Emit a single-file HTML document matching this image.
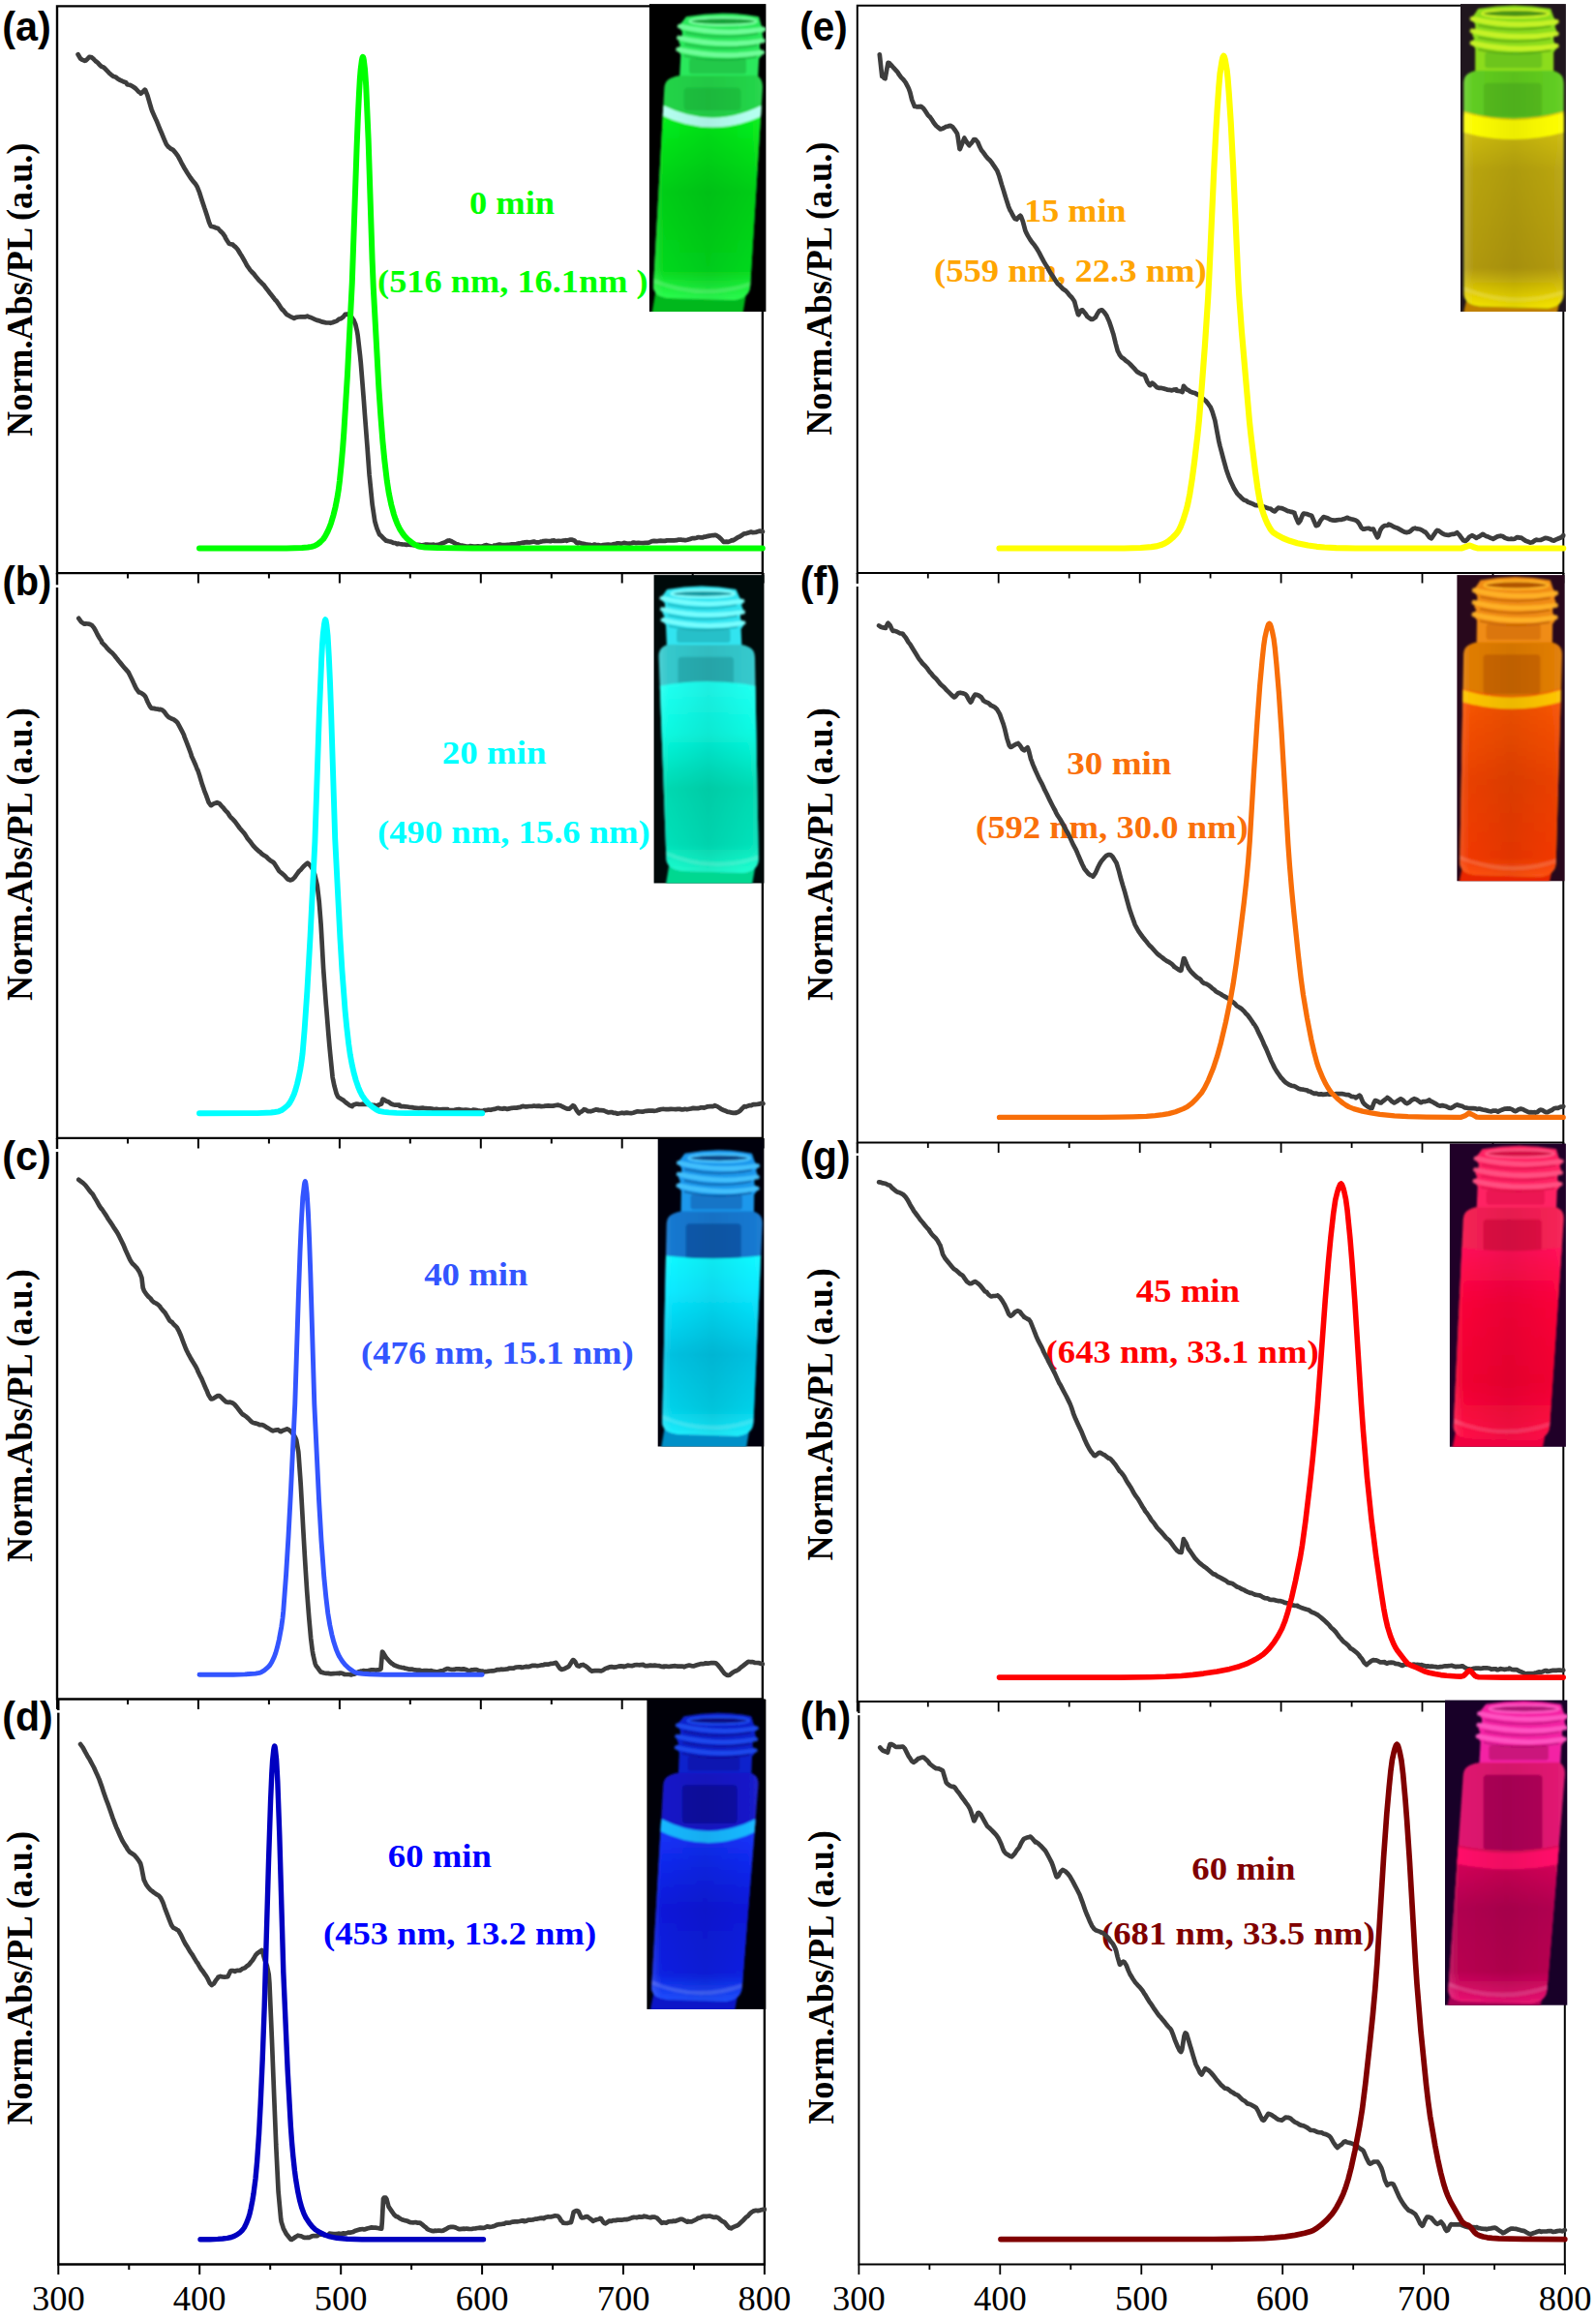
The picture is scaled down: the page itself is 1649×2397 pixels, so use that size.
<!DOCTYPE html>
<html lang="en"><head><meta charset="utf-8"><title>Norm. Abs/PL spectra</title>
<style>html,body{margin:0;padding:0;background:#fff}svg{display:block}.pl{font-family:"Liberation Serif", "Times New Roman", serif;font-weight:bold;font-size:34px}.yl{font-family:"Liberation Serif", "Times New Roman", serif;font-weight:bold;font-size:38px;fill:#000}.tk{font-family:"Liberation Serif", "Times New Roman", serif;font-size:36.5px;fill:#000;text-anchor:middle}.lb{font-family:"Liberation Sans", Arial, sans-serif;font-weight:bold;font-size:42px;fill:#000}</style></head><body>
<svg width="1649" height="2397" viewBox="0 0 1649 2397">
<defs><filter id="vb" x="-5%" y="-5%" width="110%" height="110%"><feGaussianBlur stdDeviation="1.3"/></filter></defs>
<rect width="1649" height="2397" fill="#fff"/>
<g id="panel-a">
<path d="M59,5.2 V593.3 M787.9,5.2 V593.3 M57.8,592.1 H789.1 M57.8,6.4 H789.1" stroke="#000" stroke-width="2.4" fill="none"/>
<path d="M59,592.1 v10.5 M132,592.1 v5.5 M204.9,592.1 v10.5 M277.9,592.1 v5.5 M350.9,592.1 v10.5 M423.8,592.1 v5.5 M496.8,592.1 v10.5 M569.8,592.1 v5.5 M642.7,592.1 v10.5 M715.7,592.1 v5.5 M788.6,592.1 v10.5" stroke="#000" stroke-width="2.0" fill="none"/>
<text class="yl" transform="translate(32.5,450.9) rotate(-90)" textLength="303.3" lengthAdjust="spacingAndGlyphs">Norm.Abs/PL (a.u.)</text>
<text class="lb" x="2.3" y="42.3" textLength="50.6" lengthAdjust="spacingAndGlyphs">(a)</text>
<text class="pl" fill="#00ff00" x="484.9" y="221.1" textLength="88.2" lengthAdjust="spacingAndGlyphs">0 min</text>
<text class="pl" fill="#00ff00" x="390.1" y="302.3" textLength="279.6" lengthAdjust="spacingAndGlyphs">(516 nm, 16.1nm )</text>
<polyline points="80.6,56.3 83.1,60.5 85.3,61.9 87.6,62.8 88.8,62.5 90.4,60.8 92.1,59 92.4,58.8 94.9,59.4 96.8,61.1 98.6,63 100.8,64.6 103.3,67.4 105.1,68.9 106,69 108,70.3 110.2,72.7 112.8,75.4 114.7,77.1 117.4,79.1 119.3,79.6 120.2,80.1 121.4,81.2 123.8,82.6 126,83.7 127.9,84.5 130.2,85.3 131.4,87.2 132.2,87.5 134,87.8 136,88.6 138.5,90.3 140.2,91.5 141.1,92.5 143.4,95 145.2,95.9 145.5,96.6 147.6,94.9 149.7,92.7 150.2,93.2 152.4,98.6 154.7,106.7 156.5,112.7 157.2,114.8 160,121.1 162.3,126.1 164,130.3 164.7,132.2 166.9,137.3 169.5,143.6 171.9,149.1 174,151.8 174.5,152 176.4,153.6 178.8,154.9 180.3,156.6 181.2,157.6 183.8,161.2 185.9,165 188,169.2 190.7,174 192.7,177.2 192.8,177.5 194.9,180.7 196.7,183.5 199.4,187.2 201.6,189.6 203.6,192.8 204.1,193.9 206.2,199.2 208.9,207.8 211.5,215.5 211.6,215.7 213.9,222.8 216.1,229.9 217.9,233.9 218.8,233.9 221.1,234.5 223.5,235.6 225.4,236.1 225.6,236.5 227.5,238.5 230.2,241.2 232.6,244.7 232.9,245.7 234.6,248.5 236.7,251.7 237.3,252 239.3,252.4 240.5,252.6 241.4,253.8 243.4,255.2 245.6,257.7 248.3,262.3 250.1,265.1 252.9,270 255.2,274.3 257.8,278 258,278.5 259.8,280.5 262.3,283 264.8,286.3 267.3,289.3 269.2,291.2 271.8,293.8 273,294.9 274,296.6 276.1,299.2 278.6,302.5 281,305.5 283.3,308.5 284.3,309.9 285.5,310.9 288.1,314.7 290.4,318.2 291.8,320 292.4,320.2 294.5,322.9 296.5,325.2 297.6,325.7 298.6,326.2 301.3,327.7 303.3,328.6 303.9,328.9 305.9,327.9 308.5,327.5 310.8,327.3 313.3,327.4 315.7,327.3 317.6,326.6 318,327.1 320.1,327.7 322.5,328.7 325.1,329.8 327.6,331 327.7,330.8 330.1,331.5 332.2,332.4 334.5,332.9 337,333.5 339.3,333.5 340.2,333.5 341.5,333.8 343.4,333.3 346,332.3 348.4,331.3 350.2,329.7 350.3,329.7 352.3,329.2 354.7,327.3 356.6,324.8 358.8,324.5 359,324.9 360.7,324.7 363.1,327.4 365,330.3 365.3,330.5 367.4,335.5 369,342.6 369.6,346.1 372,366.9 372.8,375 374.6,397.5 375.8,412.8 377,429.1 379,455.3 379.4,460.3 381.6,490.7 381.9,493.5 384.6,520.5 384.6,520.6 387.3,538.6 387.8,540.5 389.5,546.2 392.1,552.3 392.8,552.8 394.5,554.3 396.9,556.8 399,558.7 400.4,558.9 401.6,559.3 404.3,559.9 406.4,560.9 408.4,561 410.4,562.1 411,561.6 413.1,562 415.6,562.3 417.7,562.5 420.2,562.8 422.3,562.5 424.3,562.9 425.4,563 426.8,563.2 429.6,563.4 432,562.9 434.6,563.2 436.5,563.3 439.1,562.7 441.2,562.7 443.7,562.9 446.5,562.9 448,562.7 448.9,563.1 451.6,562.9 453.9,562.5 455.8,561.8 458,560.9 458.3,560.8 460.6,559.8 462.4,558.7 464.3,558.5 464.3,558.4 466.9,559.5 468.7,560.5 470.8,561.8 473,562.8 473,562.4 475.1,563.4 477.4,563.7 479.5,564 481.6,564.5 483.7,564.7 485.6,564.5 485.7,564.1 487.6,564.3 489.6,564.5 491.5,564.6 493.9,564.3 496,564.5 498,564.6 500,564 500.5,563.5 502.8,563.2 505.4,563.9 508,564.6 510,564.4 510.6,563.6 512.7,563.2 515,562.7 517.3,562.7 519.8,563.2 522,563 524.4,562.9 526.4,562.8 528.7,562.3 531.2,562.3 533.7,562.1 535.7,561.5 535.7,562.1 537.8,561.2 539.8,560.7 541.4,560.8 541.9,560.3 544.6,560.2 547.1,560.5 549.4,560 551.6,559.5 554.2,560.4 556.6,560.4 558.8,559.6 560.8,559.3 561.4,559.1 564.1,558.8 566.6,559 568.8,559.2 570.6,558.5 572.4,558.4 572.5,559 575,559 577.1,558.8 579.7,559 582,558.6 584.6,558.2 585.8,558.8 586.7,558.3 588.7,557.7 591,557.6 591.1,557.8 593.5,558.5 595.8,560.8 597.1,561.4 597.9,560.5 599.3,560.9 600.4,561.4 602.7,561.8 605.2,562.4 607.6,562.7 609.8,562.8 610.9,563.3 611.7,563.4 614.3,562.5 615.8,563.1 616.2,563 618.3,563.1 620.7,563.7 623.2,563.1 625.6,562.8 628.3,562.6 630.4,562.8 632.6,562.5 634.8,562 636,562.1 637.4,561.4 639.6,561.4 641.6,561.7 643.8,561.2 644.7,560.9 645.7,561.1 647.7,561.5 650.5,561.7 652.6,561.2 654.6,560.5 656.8,561.1 659.3,560.9 660,560.9 662,561 664.4,561.1 667,560.8 668.9,560.9 671.4,560.2 673.9,559.1 675.8,558.9 678.5,559.2 680.5,558.9 682.7,558.7 684.9,558.8 686.1,558.9 687,558.9 689.2,558.4 691.5,558.3 694.1,558.4 696.5,558.4 699,558.2 701.2,557.5 703.6,557.6 705.8,558 706.8,557.9 707.9,558.2 710.2,557.8 712.9,557 715.2,556.1 717.4,556.2 719.5,555.7 721.6,555 724.1,555.3 726,555.4 727.5,554.6 728.7,554.7 730.7,554.1 732.9,553.6 735.6,553.2 737.6,553.1 738.8,552.8 740.3,553.3 742.7,554.7 745.1,557 747.7,559.8 750,560 750.2,559.6 752.5,559.9 755.1,558.9 756.4,558 757.6,558.4 759.7,557 762.3,555.2 764.6,554.3 766.8,552.8 768.7,551.4 768.8,551.4 771.3,551.1 774,550.2 776,549.6 777.9,550.2 780.6,550 782.8,549.3 785.2,548.6 787.8,549 787.9,549.3" fill="none" stroke="#3d3d3d" stroke-width="4.7" stroke-linecap="round" stroke-linejoin="round" />
<polyline points="206,566.5 296,566.5 312,566 318,565.5 322,564.9 325,564 328,562.3 331,560 334,557 336.2,553.6 338.6,549 340.6,544.4 342.2,539.9 344.6,531.8 346.6,523.7 348.2,515.7 349.8,506 351,496.3 352.6,480.5 354.2,462.2 355.4,445.8 359,386.8 363.8,291.8 368.6,152 369.8,121.6 371,96.7 371.8,82.3 372.6,72.4 373.8,62.9 374.2,60.7 374.6,59.2 374.9,58.8 375.4,59.9 375.8,61.9 377,71.6 378.2,88.4 380.6,143.5 384.6,268.4 385.8,297.7 391.4,401 393.4,430.4 395.4,455.9 397.4,476.4 399.8,496.8 401.8,509.7 404.2,521.2 407,531.6 408.6,536.4 410.6,541.5 413.4,547.2 416,551.2 418,553.8 421,557 425,560.2 429,562.9 432,564.3 434,564.8 439,565.4 452,566.1 488,566.5 787.8,566.5" fill="none" stroke="#00ff00" stroke-width="6.0" stroke-linecap="round" stroke-linejoin="round" />
</g>
<g id="panel-b">
<path d="M59,592.1 V1177.1 M787.9,592.1 V1177.1 M57.8,1175.9 H789.1" stroke="#000" stroke-width="2.4" fill="none"/>
<path d="M59,1175.9 v10.5 M132,1175.9 v5.5 M204.9,1175.9 v10.5 M277.9,1175.9 v5.5 M350.9,1175.9 v10.5 M423.8,1175.9 v5.5 M496.8,1175.9 v10.5 M569.8,1175.9 v5.5 M642.7,1175.9 v10.5 M715.7,1175.9 v5.5 M788.6,1175.9 v10.5" stroke="#000" stroke-width="2.0" fill="none"/>
<rect x="56" y="604.3" width="6" height="2.7" fill="#fff"/>
<text class="yl" transform="translate(32.8,1033.9) rotate(-90)" textLength="302.6" lengthAdjust="spacingAndGlyphs">Norm.Abs/PL (a.u.)</text>
<text class="lb" x="2.4" y="615.3" textLength="50.8" lengthAdjust="spacingAndGlyphs">(b)</text>
<text class="pl" fill="#00ffff" x="456.8" y="789.1" textLength="107.7" lengthAdjust="spacingAndGlyphs">20 min</text>
<text class="pl" fill="#00ffff" x="390.1" y="871.3" textLength="281.7" lengthAdjust="spacingAndGlyphs">(490 nm, 15.6 nm)</text>
<polyline points="81.3,638.8 84,642.6 86.6,644.4 87.6,644.7 88.5,644.4 90.6,644.5 92.6,644.9 92.6,644.9 94.7,645.8 96.8,648.2 98.7,651.5 100.8,655.7 103,659.5 105,662.6 105.1,663.6 106.9,665.5 108.9,667.4 111.1,670.2 113.4,672.5 116.1,674.8 118.5,677.5 120.2,679.7 120.9,680.5 123,683.3 124.8,685.4 126.9,687.9 129,690.4 131.2,692.9 132.7,694.6 134,697.2 136.6,702.5 138.8,707.4 140.9,711.7 143.6,715.4 144,715.3 145.7,715.9 148.4,717.7 149,718.2 150.3,719.9 152.6,725.2 154.9,729.7 156.5,731.7 156.9,731.8 158.7,731.9 160.9,732.4 162.8,732.6 164.8,733.2 165.3,732.8 167.5,733.4 169.9,735.6 172.2,738.8 174.4,741.1 175.3,741.5 177.1,742.5 179.2,743.2 181.6,745 182.3,745.5 183.5,746.9 185.8,751.1 188.3,755.9 190.2,759.7 190.3,760.7 192.3,765.6 195,772.6 197.6,779.8 197.8,781 199.9,785.6 202.2,790.7 204.1,795.8 204.1,795.1 206.1,801 208.8,810.1 211.1,816.8 211.6,818.1 213,821.6 215.7,829.2 217.9,832.2 218.3,832.1 220.4,830.6 222.2,829.8 224.2,829.7 224.2,829.1 226.6,830.2 228.8,832.6 231,834.8 231.7,835.9 233.1,837.6 235.3,839.7 237.5,843.3 239.2,845.2 240.2,846 242.8,848.9 245.2,852.2 247.6,855.5 250.2,858.5 252.3,860.8 254.7,864.5 255.5,866 256.8,867.6 259.3,870.6 261.7,873.8 263.9,876.2 266.1,878.3 267.7,879.8 268.8,880.4 270.6,882.3 272.5,883.6 275,885 277.3,887.4 279.2,888.9 281.7,890.5 282.7,891.2 283.7,892.5 286.4,896.7 288.4,900 290.2,901.5 290.9,901.9 292.9,903.7 294.9,905.7 297.1,908.2 299.8,909.3 301,909.2 302.2,908.7 304.5,906.4 306.9,903 309.1,900 310.3,899 311,898.3 313.6,895.3 315.9,893.1 317.8,891.7 318.6,892.3 320.6,894.3 322.4,897 322.8,897.7 325.2,903.6 327.8,915 327.8,915 329.8,932.1 331.6,955.1 332.3,967.3 334.1,1000.3 334.9,1011.5 336.9,1038.4 337.3,1042.8 339.3,1067.7 340.4,1080.5 341.2,1088.9 343.6,1112.8 344.1,1115.6 345.5,1122.2 347.7,1130.1 349.1,1133.1 350.2,1134.1 352.7,1135.6 355,1136.8 355.4,1137.5 357.2,1139 359.1,1140.4 361.4,1142.1 363.8,1143.1 364.2,1142 366.1,1141.3 368.5,1140.5 370.6,1140.8 372.8,1141 375.3,1140.7 375.4,1140.8 377.4,1140.8 379.7,1140.7 381.9,1141 384.5,1141.8 387,1141.9 388.8,1142.7 390.5,1142.5 390.7,1141.8 392.8,1141.1 394.2,1140.6 395.1,1136.5 395.5,1135.7 397.6,1136.7 399.7,1138 400.5,1138.1 401.7,1138.7 403.6,1140.2 406.2,1141.2 408.3,1141.6 410.6,1141.7 412.8,1141.7 413,1142.8 414.7,1143.2 417,1143.2 418.9,1143.3 420.9,1143.5 423.4,1144 425.7,1144.1 428.5,1144.7 430.5,1144.8 432.4,1145.1 434.8,1144.8 437.1,1144.6 438.1,1145 439.8,1145.1 442,1145.4 444.2,1145.3 446.1,1145.5 448.7,1146.2 450.7,1145.8 453.4,1146.4 455.4,1146.4 457.8,1146 459.9,1146 462.6,1146.2 463.2,1147 465.1,1147.2 467.3,1147.1 469.5,1146.9 472.2,1146.4 474.2,1146.1 476.5,1146.7 478.6,1146.9 481.2,1146.7 483.5,1146.9 486.1,1147.3 488.2,1147.4 488.8,1146.6 491.1,1146.8 493.7,1147.3 495.6,1147.6 497.8,1147.8 500,1147.7 500.3,1147.2 502.7,1147 504.9,1146.5 506.9,1146.8 508.8,1146.2 510.8,1145.9 513,1145.3 513.3,1145 515.3,1144.9 517.3,1145.5 519.5,1145.7 520.7,1145.1 522.1,1145.3 524.1,1145.9 526.3,1145.4 528.8,1144.8 531.6,1144.5 533.6,1144.6 536,1144.1 538.1,1143.9 538.3,1143.4 540,1142.9 542.3,1143.3 544.2,1143.4 547,1143 549.7,1143 551.7,1142.5 552.2,1142.7 554.2,1142.8 556.6,1142.6 559.3,1143.1 561.8,1143 563.4,1142.6 563.9,1142.6 566.5,1142.4 568.7,1142.6 571.4,1142.6 574.2,1142 576.5,1141.7 576.8,1141.9 578.7,1142.2 581.1,1143.3 583.2,1144.4 585.4,1145.4 586.8,1145.7 588.1,1145.7 590.7,1143.4 592,1142.2 593.3,1142.9 596,1147.5 598.2,1150.3 598.5,1149.8 600.4,1148.7 602.7,1147.1 603.4,1146.2 604.9,1146.5 607.6,1148.2 609.6,1148.2 610.2,1148.3 612.8,1147.5 615.6,1146.4 617.9,1146.6 618.3,1147.2 620.9,1147.2 623.7,1147.3 626.2,1148.5 628.4,1149.4 631,1149.2 632.3,1149.1 633.5,1149.8 635.4,1149.8 638,1150.7 640.1,1150.3 642.8,1149.7 644.7,1150.1 644.9,1150.1 647.4,1149.6 649.4,1149.9 652,1150.1 654.2,1149.7 656.4,1149 658.7,1148.3 661.2,1148.5 663.6,1148.6 665.4,1148.4 666,1148 668,1147.8 670.2,1147.7 672.1,1147.6 674.3,1147.7 676.3,1147.8 678.3,1147.5 681,1146.6 683.4,1146 685.7,1145.8 686.1,1146 688.3,1146.2 690.5,1146.1 693.2,1145.9 696,1146 698.1,1146.1 700.2,1145.9 702.3,1145.9 704.7,1146.5 706.8,1146.1 707.4,1145.8 709.8,1146.3 712.4,1145.7 714.3,1145.4 716.3,1144.9 719,1145.1 721.1,1145.2 723.7,1144.4 725.9,1144.3 727.5,1144.6 728.5,1144.2 731.2,1143.3 733.3,1143.2 736.1,1143.2 737.8,1142.7 738.5,1142.2 741,1143.1 743,1144.4 745,1145.8 747.6,1147 750.3,1148 751.2,1148.6 752.7,1148.8 755.2,1149.4 757.7,1149.9 760.3,1149.7 760.5,1149.8 762.3,1149.1 764.6,1147.8 766.5,1145.6 769,1143.2 770.9,1143.4 771.4,1143.1 774,1142.2 776.2,1142.1 778.2,1141.1 780.1,1141.1 782,1141 784.2,1140.7 786.3,1140 787.8,1139.7 788.4,1140.3" fill="none" stroke="#3d3d3d" stroke-width="4.7" stroke-linecap="round" stroke-linejoin="round" />
<polyline points="206,1150.2 266,1150.1 280,1149.5 284,1149 288,1148.3 291,1147 294,1144.9 297.4,1141.9 299,1139.9 301.4,1135.8 303.8,1130.5 305.4,1125.8 307,1120 308.6,1113.3 310.2,1105.2 311.4,1097.8 312.6,1088.5 314.6,1064.6 317.4,1023.7 320.6,967 325.4,869.7 329.8,738.3 332.2,681.1 333,666 333.8,655 335,645 335.8,640.9 336.2,640.2 336.6,641 337.4,645.6 338.6,656.8 339.8,677.9 341,705 342.2,738.4 346.2,866.4 351.4,968.9 353.4,1001.9 356.6,1044.4 358.2,1060.9 360.2,1078.4 361.8,1089.8 363.4,1098.5 365.4,1107.6 367.8,1116.4 370.2,1123.3 372.2,1128 374.2,1131.8 377.6,1136.8 380.6,1140.2 384.6,1143.6 388.6,1146.4 390.6,1147.5 392.6,1148.2 396.6,1148.9 401.6,1149.4 409.6,1149.9 419.6,1150.1 498.2,1150.2" fill="none" stroke="#00ffff" stroke-width="5.9" stroke-linecap="round" stroke-linejoin="round" />
</g>
<g id="panel-c">
<path d="M59,1175.9 V1756.7 M787.9,1175.9 V1756.7 M57.8,1755.5 H789.1" stroke="#000" stroke-width="2.4" fill="none"/>
<path d="M59,1755.5 v10.5 M132,1755.5 v5.5 M204.9,1755.5 v10.5 M277.9,1755.5 v5.5 M350.9,1755.5 v10.5 M423.8,1755.5 v5.5 M496.8,1755.5 v10.5 M569.8,1755.5 v5.5 M642.7,1755.5 v10.5 M715.7,1755.5 v5.5 M788.6,1755.5 v10.5" stroke="#000" stroke-width="2.0" fill="none"/>
<rect x="56" y="1187" width="6" height="3" fill="#fff"/>
<text class="yl" transform="translate(32.8,1613.9) rotate(-90)" textLength="302.6" lengthAdjust="spacingAndGlyphs">Norm.Abs/PL (a.u.)</text>
<text class="lb" x="2.3" y="1209" textLength="50.6" lengthAdjust="spacingAndGlyphs">(c)</text>
<text class="pl" fill="#3355ff" x="438.2" y="1328.1" textLength="107.3" lengthAdjust="spacingAndGlyphs">40 min</text>
<text class="pl" fill="#3355ff" x="373.1" y="1409.3" textLength="281.7" lengthAdjust="spacingAndGlyphs">(476 nm, 15.1 nm)</text>
<polyline points="81.3,1218.8 83.6,1220.6 86,1222.4 88.3,1224.6 91,1228.1 92.6,1230.3 93.4,1231.3 95.8,1233.8 97.9,1237.6 100.2,1241.4 102.5,1245.6 104.9,1249.1 105.1,1249 107.6,1252.7 109.7,1255.9 111.8,1259.5 114,1262.7 116.1,1265.8 118.2,1269.2 120.9,1273.1 122.7,1276.4 123.1,1277.2 125.7,1282.5 127.6,1286.4 129.7,1291.5 132.2,1296.9 134.4,1301.8 135.2,1303.1 137.1,1305.8 139.3,1307.8 141.7,1310.4 144.1,1314.2 146.5,1320.4 146.5,1320.7 147.7,1330.6 148.9,1333.7 151.3,1337.3 153.3,1339.6 155.2,1341.2 156.5,1343 157.2,1344 159.2,1345.6 161.1,1346.5 163.2,1347.9 165.3,1349.9 165.6,1350.6 167.8,1353.4 170.3,1356.1 173,1360.5 175.2,1364.3 177.2,1365.9 177.8,1366.1 179.7,1368.6 182.1,1370.7 182.8,1371.5 184.6,1374.8 187,1380.3 189.1,1386 191.8,1393 192.8,1395.2 194.2,1398.1 196.7,1402.7 199.1,1406.8 201.7,1410.9 204.1,1415.5 204.2,1416.3 206.4,1420.8 208.3,1424.3 210.6,1429.9 212.9,1435.2 213.3,1435.8 215.2,1440.7 217.8,1445.1 218.4,1445.5 220.2,1444.9 222.7,1443.4 224.2,1442.6 224.8,1442.1 226.7,1442.2 228.8,1443.8 231.2,1446.3 233.4,1448.4 235.4,1448.7 235.5,1449 237.7,1448.7 237.9,1448.7 240.2,1449.5 242.2,1450.9 244.6,1453.6 246.8,1456.5 249.5,1460 250.5,1461.1 252.2,1462.1 254.7,1463.9 257,1466 259.2,1468.3 260.2,1469.2 261.7,1470 264.3,1470.6 266.3,1471.2 268.2,1472.1 270.4,1472.1 272.5,1472.8 275.2,1474.5 275.2,1474.6 277.2,1475.6 279.9,1477.4 281.5,1478.2 282.2,1478.3 284.8,1477.6 286.5,1477.3 287.1,1477.2 289.6,1479 290.2,1479.1 292.3,1477.9 294.3,1477.3 296.4,1476.6 296.5,1476.3 298.7,1477.3 300.3,1478.9 300.9,1479.3 303.5,1482.5 305.3,1485.6 306.2,1487.8 308.3,1500 308.5,1502.1 310.5,1530.4 310.8,1535.2 312.7,1569.1 313.3,1580.3 314.8,1606.6 315.8,1622.9 317.2,1644.6 319,1668 319.3,1671.7 321.2,1693 322.8,1705.6 323.5,1709.8 325.6,1718.8 326.6,1721.2 327.9,1722.7 330.1,1725.8 331.6,1727.7 332.6,1727.8 334.7,1728.5 337.2,1728.8 339.2,1728.9 340.4,1729.2 341.7,1729.3 344.5,1729.1 346.6,1729 349.3,1728.8 350.4,1729.1 351.8,1728.5 354.1,1729.1 356.2,1730 358.7,1730 360.9,1730 362.9,1730.4 363.3,1730.2 365.6,1729.8 368.1,1728.8 370.5,1727.2 372.6,1726.7 374.7,1726.4 375.4,1726 377.1,1726.3 379.8,1726.4 381.8,1725.7 383.6,1725.4 385.9,1725.4 387.9,1725.5 388,1725.6 390.6,1725.4 392.9,1724.7 393.5,1724.2 395,1706.7 395.5,1706.9 398.1,1711.2 399.2,1712.9 400,1713.8 402.6,1716.7 404.8,1718.8 405.5,1719 406.9,1720.3 409.5,1721.3 412.1,1722.2 414.8,1722.8 417.4,1723.1 418,1723.7 420.1,1723.9 422.2,1724.6 424.3,1724.6 426.2,1724.7 428.7,1725.4 430.9,1725.6 433.3,1725.6 435.9,1726.4 438,1726.4 438.1,1726.2 440.8,1726 443.1,1726.3 445.8,1726.2 448.1,1726.9 450.6,1727.4 450.8,1727.5 453.1,1727 455.7,1726.4 457.9,1726.1 459.7,1724.9 462.2,1724.1 463.2,1724 464.1,1724.5 466.9,1725 469.2,1724.9 471.4,1724.3 473.9,1724.3 476.7,1724.6 478.9,1724.3 481.4,1725 483.6,1725.9 485.5,1726.1 487.5,1725.3 488.2,1725.5 490.2,1725.1 492.4,1725 494.6,1726.1 496.7,1726.5 498.9,1726.6 500,1727.4 501,1727.2 503.6,1726.9 506,1726.5 508.4,1726.3 511,1726.1 512.9,1725.6 513.3,1725.1 515.6,1725.2 517.6,1724.7 519.6,1724.8 521.9,1724.7 524.1,1724.5 526.6,1723.5 529.1,1723.7 531,1723.6 531.7,1723.1 533.7,1722.5 536.2,1722.4 538.3,1722.3 538.3,1722.8 540.8,1722.6 543.3,1721.9 545.9,1722.2 548.1,1721.5 550.4,1720.8 552.8,1720.8 555.1,1721.2 557.7,1720.8 559.9,1720.3 562,1720.1 562.5,1719.7 564.5,1719.6 567,1719.6 569.5,1718.8 571.9,1718.6 573.9,1718 574.4,1717.9 576.3,1720.6 578.4,1723.7 579.6,1724.5 580.3,1724.9 582.8,1724.3 585,1723.2 587.1,1722.1 587.9,1721.5 589.6,1718.7 591.8,1715.2 592.4,1715 594.1,1716.6 596.2,1720.7 597.2,1721.3 598.2,1721.6 600.3,1720.4 602.4,1720 602.4,1720.1 604.7,1721.1 607.1,1722.9 609.8,1725.5 611.7,1726.6 612.2,1726.4 614.9,1726.1 616.9,1726.2 618.8,1726.2 620.8,1726.4 622,1726 623,1725.6 625.2,1724.1 627.7,1723.1 628.2,1723.3 629.6,1722.4 632,1722.1 634.7,1722.7 636.9,1722.4 639.2,1721.6 641.6,1721.4 644,1721.7 644.7,1722.1 646.4,1721.6 648.6,1720.6 650.8,1721 652.8,1721.2 655.3,1720.4 658,1720 660,1720.3 662,1720.1 664.7,1719.9 665.4,1720.6 666.6,1721.1 669.2,1721.1 671.9,1720.6 674.4,1720.8 676.5,1720.6 679.1,1721 681.5,1721.2 684,1721.9 686.1,1722.1 686.3,1721.7 688.4,1721.6 691.1,1722 693.4,1721.6 695.6,1721.3 697.6,1721.2 700.1,1721.6 702,1721.5 704.4,1721.6 706.7,1721.9 706.8,1722.3 709.4,1721.2 712,1720.5 714.2,1721.1 716.5,1721.5 719.2,1720.6 721.8,1719.7 723.7,1719.2 726.2,1719.2 727.5,1719 728.8,1718.4 731.5,1718.6 734.1,1718.2 736.8,1718.1 737.8,1718.2 739.6,1718.4 741.5,1720 744.2,1723.2 746.1,1725.9 748.6,1729.1 751.2,1730.8 752.3,1731 753.4,1730.8 756,1728.8 758.5,1727.1 760.5,1726.3 760.9,1726.2 763.3,1724.8 765.3,1722.9 768,1720.9 770.5,1718.9 773.1,1716.9 775,1717 775.3,1717.1 777.2,1717 779.7,1717.8 781.7,1718 784.3,1718.2 786.7,1719 787.8,1719.3" fill="none" stroke="#3d3d3d" stroke-width="4.7" stroke-linecap="round" stroke-linejoin="round" />
<polyline points="206,1730.2 241,1730.2 253,1729.9 264,1729.1 268,1728.4 270,1727.7 273,1725.9 276.8,1722.7 278.8,1720.5 280.8,1717.2 283.2,1712.1 284.8,1707.8 286.4,1702.2 288.4,1693.8 290.8,1680.7 292,1672 292.8,1664.2 295.6,1626.8 298,1587.3 300.4,1542.1 304.8,1450.2 308.4,1338.2 310,1293.5 311.2,1266 312.8,1237.3 314.4,1223.7 314.8,1221.7 315.3,1220.6 315.6,1221.2 316,1223 317.2,1233.3 318.4,1252.5 319.6,1280.5 320.8,1315.4 324.8,1450.6 329.6,1550.9 332,1591.8 334.8,1629.6 336.8,1650.1 338.8,1666.9 340.8,1679 342.8,1688.6 344.8,1696.3 347.2,1703.7 349.2,1708.6 350.8,1711.8 353.6,1716.2 356.6,1720 360.6,1723.7 364.6,1726.6 367.6,1728.1 370.6,1728.8 374.6,1729.3 381.6,1729.8 397.6,1730.2 498.2,1730.2" fill="none" stroke="#3355ff" stroke-width="4.9" stroke-linecap="round" stroke-linejoin="round" />
</g>
<g id="panel-d">
<path d="M60.3,1755.5 V2340.7 M789.9,1755.5 V2340.7 M59.1,2339.5 H791.1" stroke="#000" stroke-width="2.4" fill="none"/>
<path d="M60.3,2339.5 v10.5 M133.3,2339.5 v5.5 M206.2,2339.5 v10.5 M279.2,2339.5 v5.5 M352.2,2339.5 v10.5 M425.1,2339.5 v5.5 M498.1,2339.5 v10.5 M571.1,2339.5 v5.5 M644,2339.5 v10.5 M717,2339.5 v5.5 M789.9,2339.5 v10.5" stroke="#000" stroke-width="2.0" fill="none"/>
<rect x="57.3" y="1767" width="6" height="2.6" fill="#fff"/>
<text class="yl" transform="translate(33.4,2195.6) rotate(-90)" textLength="303.7" lengthAdjust="spacingAndGlyphs">Norm.Abs/PL (a.u.)</text>
<text class="lb" x="2.3" y="1788.3" textLength="52.5" lengthAdjust="spacingAndGlyphs">(d)</text>
<text class="pl" fill="#0000ff" x="400.8" y="1929.1" textLength="107.1" lengthAdjust="spacingAndGlyphs">60 min</text>
<text class="pl" fill="#0000ff" x="334" y="2009.3" textLength="282.1" lengthAdjust="spacingAndGlyphs">(453 nm, 13.2 nm)</text>
<polyline points="83.1,1802.1 85.7,1805.6 88.1,1810.2 90.2,1813.9 92.1,1816.9 93.8,1820.1 94.8,1822 97.2,1826.5 99.8,1832.4 100.1,1832.9 102.5,1838.4 104.9,1845.1 106.9,1851.2 109.7,1859.2 110.1,1860.3 111.8,1864.7 114.2,1871.6 116.6,1878.5 119,1884.9 120.2,1887.9 121.3,1890.3 124.1,1896.8 126.4,1901.7 128.9,1905.9 131.2,1909.4 131.4,1910.1 134,1913.5 136.7,1915.3 138.9,1916.7 141,1919.2 143.7,1922.8 145.2,1925.5 146.2,1929.4 148.7,1942.3 149,1942.8 150.9,1946.8 153.1,1950 155.1,1952.3 156.5,1953.5 157.5,1954.1 159.4,1955.7 161.5,1957.2 164,1958.5 165.8,1960.6 166.5,1961.7 168.4,1965.8 170.3,1971.3 172.7,1977.7 172.8,1977.9 175,1983.6 177.1,1988.9 179,1991.7 179.8,1992 181.9,1993.1 182.8,1993.7 184.2,1994.5 186.9,1998.9 189.3,2004.1 191.5,2008.4 192.8,2010.4 193.4,2011.3 196.2,2016.1 198.5,2019.3 200.9,2023.4 203.3,2027.4 204.1,2028.2 205.3,2030.4 207.6,2034.2 210,2037.3 212.4,2040.8 212.9,2041.6 214.4,2044 216.9,2049.2 218.8,2051.1 219.1,2050.6 220.9,2049.5 222.8,2046.4 225.4,2043.1 225.4,2042.7 227.7,2041.9 229.9,2042.5 231.9,2042.6 234.1,2042.5 235.4,2042.2 236.1,2040.8 238.3,2036.2 239.2,2036 240.5,2036.1 243,2036.9 243,2036.2 245.5,2035.8 247.7,2036 250.1,2034.3 252.5,2033.4 253,2033.2 254.9,2031.5 257.1,2030 259.7,2026.7 260.5,2025.9 262.2,2023.4 264.2,2019.9 266.6,2017.5 266.8,2017.5 269.1,2016 270.5,2014.9 271.6,2018 273,2023.1 273.9,2025.8 276,2031.6 277.7,2039.9 278.4,2048.7 280.2,2090 280.9,2106.7 282.7,2152.8 283.2,2165.8 285.2,2215.4 285.2,2215.9 287.6,2264.6 287.7,2265.6 290.2,2292.7 290.7,2295.6 292.8,2302.3 295.2,2306.8 295.6,2307.7 297.8,2310.5 300.4,2313.7 301.5,2314 302.8,2313 305.6,2311 307.8,2309.8 307.9,2309.7 310.5,2310.2 312.8,2311.2 314.9,2311.9 317.6,2311.9 317.8,2311.7 319.7,2311.8 321.9,2310.6 323.8,2310 325.6,2310.2 327.8,2310.2 327.8,2309.7 329.8,2308.7 332.4,2308.4 334.2,2309 336.9,2309.5 339.5,2308.7 340.4,2307.7 342.1,2307.8 344.7,2308.1 347.1,2308.1 349.7,2307.7 352.3,2308 354.9,2307.4 357,2307.6 359.8,2306.6 360.4,2306.5 362.5,2306.6 365,2305.9 367.4,2304.7 369.8,2304 372.3,2303.3 374.9,2303 375.4,2303.3 377.1,2303.3 379.3,2302.5 381.4,2302 383.9,2301.4 385.8,2301.6 388,2301.6 390.2,2302 390.5,2302 392.4,2302.4 394.2,2302.7 394.8,2295.6 396,2271.8 396.8,2270.7 398.5,2270.6 399.5,2272.3 401.7,2280.5 401.8,2280.2 404.4,2284.1 407.1,2288 409.3,2290.2 410.5,2290.2 411.4,2290.8 413.8,2292.5 416.1,2293.6 418,2294.1 420.1,2294.5 422.1,2295.3 423.1,2295.8 424.3,2296.2 427,2296.3 429.3,2296 431.1,2296.6 433.1,2296.6 433.7,2296.5 436.3,2298.4 439,2300.7 440.6,2301.9 441.2,2302.9 443.3,2303.9 446,2304.9 448.2,2305.2 449.4,2304.7 450.6,2304.8 453.3,2304.5 456,2304.8 458.1,2304.6 458.6,2304.2 461.3,2302.8 463.8,2301.3 465.9,2300.9 466.9,2300.9 467.9,2300.8 470.5,2301.4 472.8,2302.5 474.8,2303.2 477.4,2302.9 479.3,2302.7 480.7,2302.8 481.9,2302.6 484.5,2302.9 487.3,2303 489.3,2302.5 491.2,2302.4 493.5,2302 496.2,2301.6 498.9,2301.8 500,2301.9 501.1,2301.5 503.3,2300.4 506,2300.9 508.6,2300.5 511.3,2299.7 513.9,2298.5 516.2,2298.1 518.2,2298 520.5,2297.5 520.7,2297.7 522.4,2296.7 525,2296.6 527.5,2296.3 529.9,2295.6 532,2295.4 534.5,2295.3 536.8,2295 539,2294.4 541.4,2294.3 541.4,2295.2 543.8,2294.7 545.9,2293.6 548.4,2293.6 550.4,2293.5 553,2292.6 555.1,2292.6 557.4,2291.9 559.8,2291.6 562,2292.2 562.1,2291.5 564.4,2290.7 566.3,2290.4 568.9,2290.5 571.1,2289.9 573.5,2289.3 575.5,2289.5 576.5,2289.8 577.9,2291.1 579.8,2294.5 581.7,2296 581.8,2296.7 584.3,2297 586.8,2296.8 589.1,2296.3 590,2296.1 591.1,2292.2 592.6,2285.7 593.9,2284.7 595.8,2284 597.2,2284.5 597.9,2285.2 600.4,2290.9 601.3,2291.3 603,2291.2 605.4,2290.3 606.5,2290 607.7,2290.8 609.8,2292.3 611.8,2293.9 612.7,2294.8 614.3,2294 616.5,2293.2 619,2292.8 620,2291.9 621,2292.3 623.2,2295.7 624.1,2296.7 625.6,2297.3 627.9,2295.7 629.7,2294.6 632.1,2295 632.3,2294.5 634,2294 635.9,2294.1 637.9,2293.6 639.9,2293.7 642.4,2293.6 644.7,2293.2 644.9,2293 647.5,2293.1 650,2292.5 652.8,2291.4 655,2290.9 657.2,2291 657.6,2291.2 660.1,2290.4 662.5,2290.7 664.5,2290.4 665.4,2289.7 667.2,2290.1 669.7,2290.7 672.1,2291.1 674.2,2290.6 676.3,2290.5 677.8,2291.3 678.7,2291.5 681.3,2294.1 683.9,2296.8 685.1,2296.5 685.7,2296.2 688.4,2296.6 690.7,2295.3 692.8,2295.2 694.4,2295.2 695.3,2294.6 697.8,2294.9 700.5,2293.8 702.8,2292.8 704.7,2292.9 705.2,2293 707.9,2294.5 710.1,2295.7 710.9,2294.8 712.1,2295.3 714.6,2295.3 717.2,2294.2 719.6,2293 721.3,2291.6 721.8,2291.8 723.9,2291.2 726.6,2289.9 729.3,2289.8 729.5,2290.2 731.1,2289.8 733.1,2289.5 735.4,2290.2 737.7,2290.9 739.9,2290.7 740.1,2290.6 742.3,2291.6 744.3,2293.4 746.2,2295 748.1,2295.7 748.8,2296.2 751.2,2299.3 753.4,2301.7 755.4,2302.4 756,2301.9 758.6,2300.6 760.8,2299.8 762.6,2298.9 763.4,2298.2 766,2295.8 768.2,2293.7 770.1,2291.6 770.9,2290.7 772.6,2289.7 774.7,2287.3 776.7,2285.5 778.1,2284.7 778.7,2284.4 781.1,2283.8 782.9,2284.1 785.5,2283.6 787.8,2282.9 789.9,2282.8 789.9,2282.7" fill="none" stroke="#3d3d3d" stroke-width="4.7" stroke-linecap="round" stroke-linejoin="round" />
<polyline points="207,2313.7 217,2313.7 225,2313.4 230,2313 235,2312.4 239,2311.5 242,2310.4 245.2,2308.7 248,2306.6 250.4,2304.3 252.4,2301.5 254.4,2297.4 256.8,2291.3 258,2287.2 259.2,2282 260.8,2273.8 262,2266.5 264,2251 265.6,2233.4 267.6,2204.4 269.2,2173.4 271.2,2128 273.2,2072.9 277.6,1920.3 279.6,1860.2 280.8,1832.4 281.6,1819.1 282.8,1807.8 283.2,1805.4 283.7,1804 284,1804.6 284.4,1806.7 285.6,1817.9 286.8,1839.9 288.8,1895.9 292.8,2037.4 297.2,2139.4 300.4,2197.4 301.6,2214 302.8,2227.4 304.4,2242.4 305.6,2251.5 307.6,2263.6 309.6,2273.3 311.6,2280.5 314,2287.1 316,2291.2 319.6,2296.8 322.8,2300.7 326,2303.7 331,2306.8 336,2309.2 341,2310.9 348,2312.3 359,2313.3 374,2313.7 499.5,2313.7" fill="none" stroke="#0000c0" stroke-width="5.4" stroke-linecap="round" stroke-linejoin="round" />
</g>
<g id="panel-e">
<path d="M885.8,4.8 V592.9 M1615.3,4.8 V592.9 M884.8,591.9 H1616.3 M884.8,5.8 H1616.3" stroke="#000" stroke-width="2.0" fill="none"/>
<path d="M885.8,591.9 v10.5 M958.8,591.9 v5.5 M1031.7,591.9 v10.5 M1104.7,591.9 v5.5 M1177.7,591.9 v10.5 M1250.6,591.9 v5.5 M1323.6,591.9 v10.5 M1396.6,591.9 v5.5 M1469.5,591.9 v10.5 M1542.5,591.9 v5.5 M1615.4,591.9 v10.5" stroke="#000" stroke-width="1.8" fill="none"/>
<text class="yl" transform="translate(859.3,449.7) rotate(-90)" textLength="302.9" lengthAdjust="spacingAndGlyphs">Norm.Abs/PL (a.u.)</text>
<text class="lb" x="826.3" y="41.5" textLength="49.4" lengthAdjust="spacingAndGlyphs">(e)</text>
<text class="pl" fill="#ffa500" x="1058.3" y="229.1" textLength="105.2" lengthAdjust="spacingAndGlyphs">15 min</text>
<text class="pl" fill="#ffa500" x="965" y="291.3" textLength="281.7" lengthAdjust="spacingAndGlyphs">(559 nm, 22.3 nm)</text>
<polyline points="908.8,56.3 911.3,78.9 911.5,78.4 913.7,80.8 914.6,81.2 916.2,72 917.6,64.8 918.6,65 920.7,67.1 923.4,70.2 926.1,73.1 927.6,74.8 928.2,76 931,79.8 933,81.8 935.6,85.1 938.1,89.9 938.9,91.5 940.3,95.4 942.2,103.1 944.9,109.8 945.2,109.6 947.2,110.4 949.4,110.2 951.4,110.3 951.6,110 954,111.8 956.2,114.9 958.5,118.6 960.2,120.5 960.7,120.7 962.6,123.3 964.7,126.7 967.3,130 969.9,132.1 971.5,133.4 972.3,133.4 974.6,132.5 977.3,130.9 979.9,130.5 980.2,130.1 982,129.9 984.4,131.3 987.1,135 989,138 989.6,141 991.5,153.8 991.8,154 994.1,148.4 996.4,142.5 996.5,142.9 999.1,147.2 1001.5,150.3 1001.6,150 1003.8,147.7 1006.1,144.3 1006.6,144.1 1008,144.4 1010.3,147 1012.3,151.8 1014.2,155.5 1015.3,156.7 1016.2,157.9 1018.2,160.7 1020.7,163.7 1022.7,165.5 1025.1,168.4 1025.4,169.1 1027.5,172.1 1030.2,176.2 1030.4,176.6 1032.4,182 1035,190.9 1036.9,196.9 1037.9,200.2 1039.3,204.9 1042,213.3 1043.9,217.8 1044.1,217.8 1046.6,222.8 1048.6,226 1050.4,226.6 1051,225.9 1052.9,223.9 1054.2,222.8 1054.8,223.4 1056.8,228.7 1059.4,238.3 1060.4,240.7 1062,243.6 1064.4,247.6 1066.9,251.1 1069,253.6 1070.5,255.8 1071.3,257.1 1073.6,260.9 1076.3,266.1 1078.6,270.4 1081.1,274.6 1083,277.6 1083.3,278.5 1086,282.9 1088.6,286.7 1091.3,290.9 1093,293.4 1093.4,293.3 1096,296.1 1098.3,298.5 1100.1,299.7 1100.6,299.9 1103,302.3 1104.9,304.9 1107.5,307.5 1109.9,311 1110.2,311.7 1111.9,318 1113.9,324.8 1114.4,325.2 1116.3,321.6 1117.7,320.4 1118.5,320.4 1121,323.4 1122.7,325.9 1123.2,326.9 1125.1,328.3 1127.6,330 1129,329.8 1129.7,329.4 1131.9,327.9 1133.9,324 1135.9,321.2 1137.7,320.4 1138.7,320.4 1141.1,322.9 1143.5,326.3 1144,327.6 1146,332.1 1148.2,338.6 1150.2,344.9 1150.3,345 1152.6,354.5 1154.8,362.6 1155.3,363.5 1157,366.8 1158.9,369.3 1161.2,370.8 1163,372.5 1165.3,374.1 1165.7,374.4 1167.9,376.5 1170.4,379.1 1172.8,381.7 1175,384.3 1175.3,384.1 1177.2,385.5 1179,386.5 1181.5,387.3 1182.8,388.1 1183.4,389.3 1185.5,394.5 1187.8,398 1188.2,398.2 1190.4,395.7 1190.4,395.7 1192.6,397.4 1195,399.9 1195.4,400.3 1197.1,400.8 1199.3,400.8 1201.4,401.3 1203.9,401.9 1205.4,402.3 1205.8,402.7 1208,402.8 1210.8,403.4 1213.2,402.5 1215.4,402.3 1215.5,403.6 1217.6,404 1219.4,404.1 1221.7,405 1222.1,403.4 1222.9,398.8 1224.8,401 1226.7,402.7 1227.5,402.8 1229.8,404.6 1232.2,405.5 1234.3,406.1 1235.5,406.5 1236.9,407.5 1239.3,408.7 1241.4,410.5 1243.5,412.4 1245.5,414 1245.7,414 1248.1,417 1250.5,420.5 1250.7,420.6 1252.6,425.3 1255.3,434.4 1255.5,435.4 1257.8,447.9 1259.3,455.7 1260.4,460.5 1262.5,468.4 1263,470.3 1264.4,475.6 1266.9,484.7 1268,488 1269.6,492.6 1271.8,497.8 1273.7,501.7 1274.3,503.2 1275.9,506.1 1278.5,510.2 1280.6,512.3 1281.1,512.6 1283.1,514.8 1285.1,516.5 1287.4,517.2 1288.1,517.6 1289.6,518.8 1292.2,519.7 1294.4,520.6 1296.5,521.8 1298.7,522.1 1300.6,521.9 1300.8,522.2 1303.3,522.9 1306,523.6 1308.4,524.5 1310.5,525.2 1313,525.8 1313.2,526.1 1315.2,527.6 1316.9,528.5 1317.1,528.4 1319.1,526.2 1320.7,524.7 1321.3,524.7 1323.9,525.1 1326,525.8 1328.5,526.9 1330.4,528.1 1330.7,528 1333,528.6 1335.5,529.1 1337.5,530 1337.5,530.7 1339.3,535.4 1341.4,540.1 1341.6,540.3 1343.4,538 1345.9,531.8 1346.8,530.6 1348.1,530.7 1350.5,531.1 1352.6,532 1355,532.8 1355.3,533 1357.3,537.6 1359.7,543.1 1360.2,543.2 1362,542.3 1364.8,537.2 1367.4,534.2 1367.5,534.1 1369.8,534.7 1372.1,535.5 1374.2,536.7 1376.2,537.4 1378.7,537.7 1379.8,537.6 1381.3,537.3 1383.6,537 1386.3,536.8 1388.4,536.3 1390.5,535.4 1392.2,534.8 1393.2,535.4 1395.9,536.2 1398.2,536.8 1400.5,537.4 1402.5,538.7 1402.7,539.1 1404.5,541.3 1406.7,545.4 1408.6,546.7 1409.5,546.7 1411.8,546 1414.4,545.8 1416.4,546.8 1418.9,546.7 1418.9,546.6 1421.3,551.7 1423.1,555.3 1424,554.2 1426.1,548 1427.2,546 1428.4,544.7 1430.5,543 1433,543 1434.4,542.6 1434.9,541.7 1437.4,542.7 1440,544.3 1442.1,545.1 1443.7,545.5 1444.3,545.9 1446.4,547.1 1449.1,548.6 1451.1,549.6 1453.7,550.2 1454,549.8 1455.7,549.6 1457.5,548.6 1460.1,546.2 1462,545.7 1462.2,546 1464.4,546.3 1466.7,546.7 1469.4,547.9 1471.8,549.5 1472.5,549.6 1474.6,552.1 1477,555.3 1478.7,556.3 1479.2,555.9 1481.9,551.9 1483.8,548.9 1484.9,547.9 1486.3,548.3 1488.2,549.6 1490.2,551.1 1492.4,552.2 1494.7,552.7 1495.2,552.7 1496.6,553 1498.8,552.3 1501.1,551.8 1503.2,551.6 1505.4,550.3 1505.5,550.5 1508,552.9 1510,555.8 1512.1,558.4 1513.8,559 1514.2,558.9 1516.3,557.2 1518.2,554.7 1520,553.7 1520.9,553.2 1523.2,554.3 1525.3,555.9 1526.1,555.2 1528,554.5 1529.9,553.3 1531.8,551.9 1532.3,552 1533.7,553 1535.5,553.9 1537.4,554.5 1539.8,555.8 1542.3,556.5 1542.6,556.9 1544.4,555.9 1547.1,554.4 1549.7,553.8 1550.9,553.7 1552.4,554 1555,555.8 1557.3,556.6 1559.2,557 1561.1,556.9 1561.2,556.6 1563.3,557 1565.2,556.7 1567.6,555 1569.4,555.4 1569.6,555.7 1571.9,555.7 1574.1,557.3 1576.3,558.8 1578.2,559.4 1579.7,560 1580.7,560.6 1583.2,560.2 1585.4,558.7 1587.5,557.6 1588,557.9 1590,558 1592,557.9 1594.4,556.8 1596.5,555.8 1598.3,556.1 1599,556.2 1601.4,556.9 1603.6,558.1 1605.7,558.6 1606.5,558 1607.9,557.4 1610,556.5 1612.5,555.5 1615.1,553.7 1615.2,553.1" fill="none" stroke="#3d3d3d" stroke-width="4.7" stroke-linecap="round" stroke-linejoin="round" />
<polyline points="1032.5,566.5 1161.5,566.5 1178.5,566 1189.5,565.1 1194.5,564.4 1199.5,563.1 1203.5,561.4 1206.5,559.6 1209.5,557.3 1211.5,555.5 1215.5,551.3 1217.5,548.6 1219.5,544.8 1222.5,537.2 1225.7,526.9 1227.3,520.5 1229.3,510.3 1231.7,494.9 1234.1,477 1237.3,450 1238.9,434.1 1241.3,405.2 1244.9,357.2 1248.1,308.8 1249.3,285.9 1254.1,179.1 1256.1,139.9 1257.7,112.6 1259.3,89.7 1260.5,76 1262.5,63.2 1263.3,59.8 1263.7,58.6 1264.3,57.8 1264.9,58.6 1265.7,61.3 1267.7,72.9 1268.5,80.3 1269.7,95.7 1271.7,126.3 1274.1,172.3 1279.3,288.4 1280.1,303.3 1282.9,342.2 1290.9,434.9 1292.5,450 1296.9,486.6 1299.3,503.9 1301.3,515.7 1303.3,524.5 1305.5,531.1 1307.5,536.4 1309.5,541 1312.5,546.5 1314.5,549.1 1315.5,550.1 1319.5,552.8 1325.5,556 1332.5,558.8 1340.5,561.2 1351.5,563.5 1360.5,564.8 1368.5,565.5 1380.5,566.1 1400.5,566.5 1506.5,566.5 1510.5,566.3 1518.5,563.5 1522.5,565.2 1526.5,566.4 1615.2,566.5" fill="none" stroke="#ffff00" stroke-width="6.2" stroke-linecap="round" stroke-linejoin="round" />
</g>
<g id="panel-f">
<path d="M885.8,591.9 V1181.6 M1615.3,591.9 V1181.6 M884.8,1180.6 H1616.3" stroke="#000" stroke-width="2.0" fill="none"/>
<path d="M885.8,1180.6 v10.5 M958.8,1180.6 v5.5 M1031.7,1180.6 v10.5 M1104.7,1180.6 v5.5 M1177.7,1180.6 v10.5 M1250.6,1180.6 v5.5 M1323.6,1180.6 v10.5 M1396.6,1180.6 v5.5 M1469.5,1180.6 v10.5 M1542.5,1180.6 v5.5 M1615.4,1180.6 v10.5" stroke="#000" stroke-width="1.8" fill="none"/>
<rect x="882.8" y="603" width="6" height="3" fill="#fff"/>
<text class="yl" transform="translate(859.5,1033.9) rotate(-90)" textLength="302.6" lengthAdjust="spacingAndGlyphs">Norm.Abs/PL (a.u.)</text>
<text class="lb" x="826.7" y="614.9" textLength="41.2" lengthAdjust="spacingAndGlyphs">(f)</text>
<text class="pl" fill="#fa700a" x="1102.3" y="800.2" textLength="108.2" lengthAdjust="spacingAndGlyphs">30 min</text>
<text class="pl" fill="#fa700a" x="1008" y="866.3" textLength="281.7" lengthAdjust="spacingAndGlyphs">(592 nm, 30.0 nm)</text>
<polyline points="908.1,646.4 910.1,647.7 912.5,648.4 915.1,648.9 915.1,648.5 917.2,644.2 917.6,643.8 919.6,646.1 921.9,650.9 922.6,651.8 924.6,651.9 926.9,652.7 929.7,654.3 931.8,654.5 932.6,654.7 933.7,656.3 935.8,658.8 938.4,663.3 938.9,663.8 940.7,666.2 943.4,670.7 946.2,675.2 948.9,679.7 950.2,681.7 950.9,682.4 953.2,685.5 955.8,688 958.4,691.1 960.4,694 962.7,696.3 962.8,696.7 964.7,699 967.2,701.3 969.6,704.3 971.6,706.8 973.5,708.5 975.2,709.9 975.8,710.5 978.1,713.1 980.5,715.4 983.2,718.1 985.9,720.4 986.5,720.3 988,718.6 990,716.2 990.3,716 992.1,715.7 994.7,716.2 996.7,716.9 997.8,717.7 998.7,718.6 1001.1,723.2 1002.8,725.5 1003.6,724.8 1005.6,720.4 1007.5,717.6 1007.8,717.7 1009.5,717.9 1011.5,718.7 1013.7,720.2 1015.3,722.5 1016,723.7 1018.7,725.4 1020.9,726.3 1022.8,727.6 1023.3,728.5 1025.8,729.6 1027.9,730.8 1030.2,733 1030.4,733.4 1033,737.9 1035.7,745.5 1036.6,747.9 1037.9,752.3 1040.5,763.1 1042.7,770 1044.1,771.9 1045.3,771.7 1047.5,770.1 1050,768.7 1051.7,768.1 1051.9,768 1053.9,770.3 1056.4,774.1 1057.9,775.2 1058.4,775.3 1060.5,773.3 1061.7,772.3 1063,775.8 1065.1,784.4 1065.5,785.3 1067.2,789.9 1069.8,796 1071.8,800.4 1073.6,804.4 1076.3,809.3 1078,812.9 1078.9,815.1 1081.4,820 1083.8,825.1 1086.5,830.5 1088.8,835 1090.5,838 1090.7,838.8 1092.9,842.8 1095.2,846.3 1097.8,850.8 1100.2,855.1 1102.1,858.9 1103,860.2 1104.5,863.1 1107.1,868.9 1109.1,873.2 1111.8,878.2 1112.6,879.9 1113.6,882.4 1116.1,888.2 1118.3,893.2 1120.6,897.9 1121.4,898.9 1122.6,900.3 1124.6,902.8 1126.7,904.2 1128.9,904.6 1129.3,905.6 1131.9,901.9 1134.5,896 1136.6,891.9 1137.6,890.3 1138.8,888.7 1141,886.2 1143,884.2 1145.2,883.1 1146.4,883 1147.5,883.2 1149.6,885.2 1151.6,888.5 1152.7,890.2 1153.6,891.7 1155.8,899 1158.1,907.8 1160.2,915.2 1160.3,915.3 1162.1,921.4 1164.4,929.8 1167.1,939.6 1169.5,946.6 1171.8,952.9 1172.7,955.5 1174,957.9 1176.2,961.8 1178.5,965.1 1180.6,968 1183.2,971.3 1185.3,973.7 1185.5,974.1 1187.9,977.1 1189.8,978.8 1192,981.3 1194,983.5 1196,985.7 1198.4,987.5 1200.3,989 1200.9,989.4 1203.3,991.4 1205.4,992.8 1208.1,994.2 1210.6,995.9 1212.8,998.2 1213,998.7 1215.2,1000.1 1217.7,1001.8 1219.8,1002.9 1220.4,1002.5 1221.9,995.1 1222.9,990.4 1223.7,990.3 1226.2,996.5 1227.9,1000 1228.2,1000.7 1230.4,1003.7 1232.7,1006 1234.9,1008.2 1237.5,1010.3 1239.5,1011.4 1240.4,1012.1 1241.9,1014.3 1244.2,1016 1246.3,1016.5 1248.4,1017.7 1250.6,1019.3 1252.5,1021.1 1254.4,1022.4 1255.4,1023.4 1256.4,1024.5 1258.6,1025.6 1261.2,1027 1263.4,1028.5 1265.9,1029.9 1268.6,1031.4 1270.5,1032.3 1270.6,1032.9 1273.2,1034.8 1275.5,1036.6 1277.8,1039.3 1280.4,1040.7 1282.7,1042.3 1285.1,1044.6 1285.5,1044.9 1287.1,1047 1289,1048.8 1291.6,1052.2 1293.9,1055.6 1295.5,1058.2 1295.8,1058.1 1298.3,1062.2 1300.9,1067.9 1303,1072.1 1305.4,1077.4 1305.6,1078.3 1308.2,1083.6 1310.5,1089.1 1313.2,1095.7 1315.1,1099.5 1315.6,1100.6 1317.1,1103.6 1319.2,1107.1 1321.2,1110 1323.9,1113.8 1325.6,1115.4 1325.9,1116 1328.2,1118.3 1330.1,1119.6 1332,1120.8 1334.6,1121.7 1335.6,1122 1337,1122.2 1339.2,1123.2 1341.8,1124.7 1344.3,1125.5 1346.6,1125.7 1349.2,1126.2 1350.7,1126.6 1351.6,1127.4 1353.5,1127.7 1355.6,1128.8 1357.9,1129.9 1360,1129.6 1360.7,1129.9 1362.4,1130.6 1364.9,1130.4 1367,1130.9 1369.4,1130.6 1371.5,1130.3 1373.2,1130.6 1373.9,1130.8 1375.8,1130.5 1378.5,1130.6 1380.8,1130.1 1383,1130.1 1383.3,1130.1 1385.3,1130.2 1387.3,1130.2 1389.9,1130.8 1392.2,1131.1 1393.3,1131.1 1394.5,1131.8 1396.5,1133 1398.8,1133.2 1400.8,1133.5 1400.9,1134.4 1403.1,1132.7 1404.6,1131.7 1405.6,1132.7 1408.1,1138.6 1408.3,1138.9 1410.2,1141.2 1412.5,1143 1415.1,1144.6 1417.1,1145 1417.5,1145 1419.6,1139.3 1420.9,1137 1421.6,1137.1 1423.6,1137.9 1425.7,1139.5 1427.1,1139.3 1427.7,1138.7 1430.3,1136.6 1433,1134.5 1433.4,1134 1435.8,1135.6 1438.2,1138.1 1440.5,1139.5 1440.9,1139.3 1443.1,1138 1445.4,1136.3 1447.2,1135.5 1447.2,1135.3 1450,1137.1 1451.9,1139.3 1453.8,1140.1 1454,1140.1 1456.3,1138.7 1458.7,1136.6 1461.1,1135.2 1461.2,1135.3 1463.5,1136 1465.8,1137.7 1467.7,1139.1 1468.4,1139.1 1470,1138.2 1472.8,1138.1 1475.1,1137.5 1476.7,1136.4 1477.7,1137.5 1480.4,1138.7 1482.9,1140.1 1484.9,1141.2 1484.9,1141.6 1487.6,1142.6 1490.2,1142.1 1492.7,1142.7 1493.2,1142.8 1494.6,1143.3 1497.3,1144.6 1499.3,1144.9 1499.7,1144.6 1502.1,1143.2 1504,1141.9 1505.5,1141.4 1506.6,1141.9 1509.1,1142.5 1511.2,1143.1 1513.2,1144.4 1515.7,1144.6 1515.8,1144.8 1517.7,1145.2 1519.9,1145.1 1522.4,1145.2 1524.7,1145.3 1526.1,1145.9 1527.3,1145.7 1529.3,1145.7 1531.9,1146.5 1534.2,1146.8 1536.4,1147.5 1536.6,1147.4 1538.5,1148 1540.9,1148.3 1543.1,1147.6 1545.8,1147.7 1547.7,1148.6 1548.8,1148 1550.1,1147.4 1552.3,1146.5 1555,1145.6 1557.7,1145.4 1559.1,1145.6 1560,1145.4 1562.6,1146.4 1565,1147.9 1565.3,1148.1 1566.9,1147.7 1568.8,1146.3 1570.5,1145.9 1571.1,1145.5 1573.7,1146.2 1576.3,1147.7 1578.9,1148.8 1579.7,1149.3 1581.7,1149.2 1584.2,1149.3 1585.9,1149.1 1586.4,1149.6 1588.5,1148.9 1591,1146.8 1592.1,1146.7 1593.6,1147.1 1596.3,1148.7 1597.3,1149.2 1598.8,1149.1 1601.4,1147.8 1603.5,1147 1604.5,1146.1 1605.6,1145.3 1607.8,1144.8 1609.8,1144.8 1612.4,1143.7 1615,1143.4 1615.2,1143.1" fill="none" stroke="#3d3d3d" stroke-width="4.7" stroke-linecap="round" stroke-linejoin="round" />
<polyline points="1032.5,1154.4 1136.5,1154.4 1156.5,1154.2 1170.5,1153.9 1184.5,1153.3 1193.5,1152.6 1201.5,1151.7 1207.5,1150.6 1214.5,1148.7 1222.5,1145.6 1226.5,1143.6 1231.5,1139.8 1236.5,1134.9 1241.5,1129 1244.5,1124.2 1248.5,1116.1 1253.5,1103.8 1257.5,1091.7 1261.5,1077.2 1266.5,1055.9 1271.5,1031.5 1274.1,1016.8 1277.3,995.4 1280.9,968.2 1285.3,932.5 1287.7,910.8 1289.7,889.5 1291.3,868.6 1295.7,795.1 1298.9,746.4 1301.7,708.3 1304.1,682 1305.7,667 1306.9,658.9 1308.5,651.7 1309.7,647.4 1310.5,645.3 1310.9,644.7 1311.5,644.2 1312.1,644.7 1312.5,645.5 1313.3,647.7 1314.5,652.4 1316.1,660.3 1317.3,669.7 1318.9,686.3 1321.3,715.1 1324.1,756.5 1330.9,872.4 1332.5,894.6 1334.5,918.5 1336.9,943.6 1341.3,986.1 1344.1,1010.4 1346.5,1027.9 1350.5,1051.7 1354.7,1073.6 1357.7,1086.9 1360.7,1098.1 1362.7,1104.1 1366.7,1113.7 1369.7,1119.8 1371.7,1123.3 1373.7,1126.4 1375.7,1129 1381.7,1135 1387.7,1139.9 1390.7,1141.9 1393.7,1143.6 1398.7,1145.6 1407.7,1148.1 1416.7,1149.9 1425.7,1151.3 1440.7,1152.8 1454.7,1153.6 1473.7,1154.1 1505.7,1154.4 1509.7,1154.3 1513.7,1152.8 1517.7,1150 1521.7,1151.8 1525.7,1154.1 1529.7,1154.4 1615.2,1154.4" fill="none" stroke="#f86e08" stroke-width="5.3" stroke-linecap="round" stroke-linejoin="round" />
</g>
<g id="panel-g">
<path d="M885.8,1180.6 V1759 M1615.3,1180.6 V1759 M884.8,1758 H1616.3" stroke="#000" stroke-width="2.0" fill="none"/>
<path d="M885.8,1758 v10.5 M958.8,1758 v5.5 M1031.7,1758 v10.5 M1104.7,1758 v5.5 M1177.7,1758 v10.5 M1250.6,1758 v5.5 M1323.6,1758 v10.5 M1396.6,1758 v5.5 M1469.5,1758 v10.5 M1542.5,1758 v5.5 M1615.4,1758 v10.5" stroke="#000" stroke-width="1.8" fill="none"/>
<rect x="882.8" y="1191.5" width="6" height="2.5" fill="#fff"/>
<text class="yl" transform="translate(859.5,1612.4) rotate(-90)" textLength="302.2" lengthAdjust="spacingAndGlyphs">Norm.Abs/PL (a.u.)</text>
<text class="lb" x="826.5" y="1209" textLength="52" lengthAdjust="spacingAndGlyphs">(g)</text>
<text class="pl" fill="#ff0000" x="1173.7" y="1345.1" textLength="107.4" lengthAdjust="spacingAndGlyphs">45 min</text>
<text class="pl" fill="#ff0000" x="1080.6" y="1408.3" textLength="282.1" lengthAdjust="spacingAndGlyphs">(643 nm, 33.1 nm)</text>
<polyline points="908.1,1221.4 910.2,1221.7 912.3,1222.4 914.3,1222.7 916.9,1223.8 917.6,1224.3 919.5,1224.8 921.5,1227.1 923.6,1228.9 926,1230.8 926.4,1231.2 928.5,1231.9 930.8,1232.9 932.6,1233.8 933,1234 935.6,1236.7 937.8,1239.9 940.5,1244.9 942.7,1248.5 944.6,1251.8 945.2,1252.5 946.7,1254.5 948.6,1257 951.3,1260.8 953.7,1263.5 955.7,1266.1 957.6,1268.3 960.2,1271 960.2,1271.6 962.4,1274.7 964.4,1277 966.6,1279 968.6,1281.6 970.5,1285.1 971.5,1286.8 972.4,1289.9 974,1295.7 974.2,1296.1 976.6,1300.3 978.8,1303 980.9,1305.6 983.1,1308.2 984,1309.3 985.5,1311 987.6,1312.2 989.6,1314 992,1316.2 994.1,1317.5 995.3,1318.7 996.7,1320.9 999,1324.1 1001.8,1326.1 1002.8,1326.2 1003.8,1326 1005.8,1324.8 1006.6,1324.4 1007.7,1324.1 1010.5,1326.1 1012.9,1328.2 1015.3,1331.3 1017.5,1334.2 1017.8,1334.4 1019.5,1335 1021.3,1337.5 1023.9,1339.5 1025.4,1339.2 1026.2,1339 1028.9,1338.8 1030.4,1338.5 1030.8,1338.4 1033.4,1340.8 1035.4,1343.6 1037.9,1347.9 1038.1,1348.2 1040.1,1352.5 1042.2,1357.6 1044.1,1359.6 1044.4,1359.6 1046.8,1357.8 1048.7,1355.6 1051.3,1354.4 1051.7,1354.4 1053.9,1355.4 1055.8,1358 1057.8,1360.1 1057.9,1360.6 1060.4,1362 1062.3,1363.1 1062.9,1363 1064.7,1365.5 1067.3,1372 1069.9,1378.7 1070.5,1380.2 1072.3,1384.4 1074.5,1388.6 1076.4,1392.1 1078.5,1397 1080.4,1400.6 1082.8,1405.3 1083,1405.9 1084.6,1409 1087.2,1413.9 1089.9,1419.1 1091.9,1423.6 1094.3,1428.9 1095.5,1430.7 1097,1433.6 1099,1437.5 1101.7,1442.5 1104.2,1447.6 1105.6,1450.5 1106.8,1453.5 1108.8,1459.4 1108.8,1459.8 1111.3,1466.1 1113.9,1471.7 1116.5,1477.2 1117.6,1479.6 1118.9,1482.8 1120.8,1487.5 1123.3,1492.9 1125.5,1497 1127.6,1500.3 1128.1,1500.6 1130.3,1503.6 1131.4,1504.2 1132.7,1503.2 1135,1501.3 1136.4,1500.8 1137,1501 1139.5,1502.5 1141.8,1503.7 1144.1,1505.6 1145.2,1506.6 1146.3,1506.7 1148.2,1508.2 1150.1,1510.4 1152.4,1513.2 1154.7,1516.7 1156.9,1520.1 1157.7,1520.7 1158.9,1522 1161.3,1525.2 1163.5,1529.2 1165.8,1532.9 1168.3,1536.7 1170.2,1540.1 1171,1541.7 1173.5,1545.7 1175.9,1548.9 1178.4,1553.1 1180.5,1556.7 1182.8,1560.3 1183,1561 1185.1,1563.5 1187.5,1567 1189.6,1570.5 1192.2,1573.5 1194.3,1576.6 1195.3,1578.2 1197,1580 1199.6,1582.6 1202.3,1585.7 1204.8,1588.8 1207,1590.6 1207.8,1591.2 1209,1592.6 1211.7,1596.3 1213.6,1599 1216.3,1602.2 1218.3,1603.7 1220.4,1604 1220.7,1603.6 1222.9,1590 1223,1590.4 1225.5,1594.5 1227.4,1599.2 1227.9,1600.3 1229.6,1602.5 1232,1606 1234.6,1609.8 1237,1612.4 1239.4,1614.8 1240.4,1615.7 1241.5,1616.5 1243.7,1618.3 1246.1,1619.9 1248.3,1621.7 1250.9,1624 1253.5,1626.2 1255.3,1626.9 1255.4,1626.7 1257.6,1628.3 1259.6,1629.3 1262,1630.6 1264.7,1632.1 1266.8,1633.3 1269,1635.1 1271.2,1635.6 1273,1636 1273.5,1636.3 1275.8,1637.9 1278.1,1639.5 1280.7,1640.4 1282.8,1641.7 1285.1,1642.6 1287.2,1643.9 1289.3,1644.9 1291.6,1645.8 1293,1645.8 1294.3,1646.5 1296.8,1647.7 1298.9,1648 1301.6,1648.4 1304.2,1649.8 1306.8,1651.1 1309.4,1651.4 1310.6,1651.9 1311.3,1652.4 1313.5,1653 1315.4,1652.8 1317.9,1653.4 1320.4,1654.1 1322.5,1654.1 1324.8,1654.7 1325.6,1654.9 1326.7,1655.6 1328.9,1656.1 1330.8,1656.4 1332.8,1657.3 1335.3,1658.4 1338,1659 1340.6,1658.9 1340.7,1659.5 1343,1660.4 1345.2,1661.3 1347.2,1661.9 1349.8,1662.7 1352.3,1663.4 1353.2,1664.1 1354.8,1665.4 1356.8,1666.2 1359.1,1667.2 1361.3,1668.4 1363.4,1670 1365.7,1671.8 1365.9,1672.2 1368.3,1674.1 1370.5,1676.2 1373,1678.6 1375,1681.2 1375.7,1682 1377.7,1683.6 1380,1686 1381.9,1688.6 1384,1691.5 1385.8,1693.4 1386.3,1694.1 1388.4,1696.3 1390.9,1698.2 1393.2,1700.3 1395.5,1703.2 1395.8,1703.2 1398,1704.6 1400,1706.2 1402.1,1707.8 1404.6,1710.6 1404.7,1711.2 1406.9,1713.6 1409.6,1718 1412.1,1720.1 1412.4,1719.5 1414.9,1717.6 1416.8,1716.1 1418.9,1715 1419.6,1715.3 1421.5,1715.3 1423.5,1715.9 1426.2,1717.5 1428.1,1717.3 1430.7,1717.2 1430.9,1717.9 1432.8,1718.7 1435.1,1717.8 1437.4,1717.6 1439.3,1717.8 1440.9,1718.4 1441.8,1718.9 1444.1,1719.1 1446.8,1720 1449,1721 1450.9,1719.9 1451.7,1719.5 1453.6,1719.9 1456.4,1720 1459.1,1719.9 1461.3,1719.7 1463.5,1720.1 1464,1719.9 1466.1,1720 1468.4,1720.6 1468.4,1720.1 1470.5,1720.7 1473.2,1721.6 1475.2,1721.4 1477.1,1721.8 1478.9,1721.6 1481.3,1721.9 1483.9,1722.1 1484.9,1722.5 1486.1,1722.5 1488.1,1722.1 1490.7,1721.8 1493.4,1721.3 1495.4,1721.3 1497.3,1721.2 1499.7,1720.8 1501.9,1721.5 1503.8,1722.1 1505.5,1721.8 1506.2,1721.8 1508.9,1721.6 1511,1721.3 1513.4,1722.9 1515.9,1724.2 1517.9,1724.4 1518.3,1724.5 1520.5,1724.5 1522.9,1723.8 1524.9,1723.7 1527.5,1723.7 1529.6,1723.9 1531.7,1723.7 1532.3,1723.4 1533.7,1723.3 1536.3,1723.3 1538.8,1723.7 1540.8,1724.6 1543.5,1724.4 1545.9,1724.4 1546.8,1725.2 1548,1725.1 1550.2,1724.2 1552.4,1724.5 1554.5,1724.8 1557,1724.5 1559.1,1724.3 1559.5,1723.7 1562.1,1725 1564.3,1725.2 1567.1,1725.2 1569.4,1726.3 1569.5,1726.6 1571.4,1727.2 1573.4,1728.1 1575.5,1729.2 1577.7,1729.7 1577.9,1729.2 1579.9,1729.2 1582.2,1729.2 1585,1728.8 1587.4,1728.2 1589.9,1727.4 1590,1727.6 1592,1727.7 1593.9,1727.2 1596.3,1726.1 1598.3,1726 1598.6,1726.9 1601.1,1726.6 1603.8,1725.9 1606.1,1725.8 1608,1725.8 1610.5,1725.5 1612.4,1725.7 1614.4,1725.8 1615.2,1725.5" fill="none" stroke="#3d3d3d" stroke-width="4.7" stroke-linecap="round" stroke-linejoin="round" />
<polyline points="1032.5,1733.1 1156.5,1733.1 1188.5,1732.7 1204.5,1732.3 1220.5,1731.5 1232.5,1730.4 1243.5,1729.1 1257.5,1727 1270.5,1724.4 1280.5,1721.7 1285.5,1719.9 1289.5,1718.3 1294.5,1715.8 1298.5,1713.6 1302.5,1711.1 1305.5,1708.9 1308.5,1706.2 1311.5,1703 1316.5,1696.6 1320.5,1690.3 1324.5,1682.8 1327.5,1675.3 1330.5,1665.9 1334.5,1650.9 1338.5,1633.4 1343.5,1608.6 1345.5,1596.5 1348.9,1571.5 1353.3,1534.3 1356.1,1508.8 1358.9,1480.1 1361.3,1452.2 1369.3,1342.5 1372.5,1303.7 1374.9,1278.4 1377.7,1253.6 1379.7,1239.9 1381.3,1233.3 1382.9,1227.8 1384.5,1224 1384.9,1223.5 1385.6,1223 1386.5,1223.9 1387.7,1227 1388.9,1231.5 1390.5,1238.8 1392.1,1250.7 1394.9,1279 1396.9,1303.6 1399.7,1342.8 1406.5,1450.9 1408.5,1478.8 1412.5,1526.8 1416.9,1569.1 1421.7,1607.3 1426.7,1642.6 1429.7,1661.7 1431.7,1672.4 1433.7,1681 1436.7,1690.6 1439.7,1698 1441.7,1702 1443.7,1705.2 1451.7,1715.6 1453.7,1717.9 1454.7,1718.8 1457.7,1720.6 1463.7,1723 1471.7,1726.8 1476.7,1728.2 1482.7,1729.5 1488.7,1730.6 1494.7,1731.3 1504.7,1732 1509.7,1732.1 1511.7,1731.6 1512.7,1731 1513.7,1730.1 1516.7,1726.8 1517.7,1726.2 1518.7,1726.1 1519.7,1726.7 1523.7,1731.2 1525.7,1732.3 1527.7,1732.7 1555.7,1733.1 1615.2,1733.1" fill="none" stroke="#ff0000" stroke-width="5.6" stroke-linecap="round" stroke-linejoin="round" />
</g>
<g id="panel-h">
<path d="M887.4,1758 V2340.5 M1616.8,1758 V2340.5 M886.4,2339.5 H1617.8" stroke="#000" stroke-width="2.0" fill="none"/>
<path d="M887.4,2339.5 v10.5 M960.4,2339.5 v5.5 M1033.3,2339.5 v10.5 M1106.3,2339.5 v5.5 M1179.3,2339.5 v10.5 M1252.2,2339.5 v5.5 M1325.2,2339.5 v10.5 M1398.2,2339.5 v5.5 M1471.1,2339.5 v10.5 M1544.1,2339.5 v5.5 M1617,2339.5 v10.5" stroke="#000" stroke-width="1.8" fill="none"/>
<rect x="884.4" y="1770" width="6" height="2.2" fill="#fff"/>
<text class="yl" transform="translate(860.9,2194.8) rotate(-90)" textLength="303.7" lengthAdjust="spacingAndGlyphs">Norm.Abs/PL (a.u.)</text>
<text class="lb" x="826.7" y="1787.9" textLength="52.5" lengthAdjust="spacingAndGlyphs">(h)</text>
<text class="pl" fill="#800000" x="1231.3" y="1941.7" textLength="107.2" lengthAdjust="spacingAndGlyphs">60 min</text>
<text class="pl" fill="#800000" x="1138" y="2009.3" textLength="282.7" lengthAdjust="spacingAndGlyphs">(681 nm, 33.5 nm)</text>
<polyline points="909.3,1805.6 911.9,1808.5 914.4,1809.5 916.4,1810.2 917.1,1810.7 918.4,1805.7 919.6,1802 920.6,1802 923.1,1803.1 925.6,1805 926.4,1805 927.8,1804.9 930.3,1804.8 932.6,1804.5 932.9,1804.5 934.8,1806.5 937.1,1811.1 938.9,1814.7 939.6,1815.6 942.2,1819.7 943.9,1820.9 944.3,1820.7 946.6,1819 948.7,1817 948.9,1817.1 950.8,1816.3 953.4,1815.6 953.9,1815.5 955.8,1816.9 958.1,1818.9 960.2,1821.4 960.2,1822 962.7,1824 964.6,1825.5 967.3,1827.2 967.7,1827.2 969.6,1827.3 971.6,1828.1 973.9,1829.3 974,1829.4 976.4,1837.5 977.7,1841.7 979,1843.2 981.6,1845.1 984.2,1846.1 985.3,1845.9 986.4,1846.7 988.5,1849.7 991,1852.7 993.2,1856 995.3,1858.9 995.6,1859.2 998.2,1862.9 1000.1,1865.4 1002,1868.7 1002.8,1870.6 1004.1,1874.5 1006.3,1881.2 1006.6,1881.3 1008.4,1877.4 1010.3,1873.2 1011.1,1872.9 1013.3,1874.8 1015.5,1878.6 1017.7,1882.6 1020.1,1886.8 1020.3,1886.9 1022.4,1888.8 1024.3,1890.6 1026.6,1893 1029.1,1895.6 1031.7,1899.4 1032.9,1902 1034.4,1905.2 1036.6,1911.3 1037.9,1913.5 1039.2,1914.9 1041.7,1916.5 1043.6,1917.7 1045.4,1918.4 1046.1,1917.7 1048.8,1914.6 1050.9,1911.3 1051.7,1910.4 1053.1,1908.6 1055.2,1904.1 1057.7,1900.1 1057.9,1899.9 1060.4,1898.8 1062.5,1898.3 1064.2,1897.6 1064.7,1897.6 1067.2,1900.2 1069.9,1903.4 1070.5,1903 1072.6,1904.6 1075.2,1906.9 1077.7,1909.6 1079.8,1911.8 1080.5,1912.9 1081.9,1915.4 1084.1,1919.5 1086.6,1924.4 1088,1928.1 1088.9,1931 1091.2,1938.1 1091.8,1939.3 1093.4,1938.5 1095.8,1934 1098,1932 1098.3,1932.2 1100.6,1933.3 1103.4,1936 1105.6,1938.9 1106.1,1939.8 1108.3,1943.6 1110.5,1947.8 1112.7,1952 1114.6,1955.8 1115.6,1957.8 1116.9,1961.4 1118.9,1966.7 1121.5,1974.4 1123.1,1978.4 1123.7,1979.6 1125.8,1984.7 1128.1,1989.6 1130.1,1992.5 1130.6,1993 1132.1,1994.3 1134.4,1995.1 1136.7,1995.9 1138.1,1996.8 1138.7,1996.6 1140.9,1998.1 1143,2000.3 1145.7,2002.8 1145.7,2003.1 1147.8,2006 1150,2008.6 1152.1,2012.6 1153.2,2015.6 1154.6,2021.6 1156.9,2029.6 1157.1,2029.8 1159.6,2027.1 1160.7,2026.7 1161.7,2027.3 1163.7,2030.4 1165.8,2035.9 1167.6,2039.9 1168.4,2041.1 1170.3,2044.2 1173,2048.2 1175.3,2050.8 1177.8,2053.4 1180.5,2056.8 1182.6,2060.2 1183.1,2060.8 1185.3,2064.5 1187.3,2067.8 1189.6,2070.9 1191.9,2074.6 1194.4,2078.2 1196.3,2080.8 1197.6,2082.6 1198.6,2083.6 1200.6,2086 1203.3,2089.1 1205.5,2092.1 1207.4,2094.3 1209.3,2096.2 1210.2,2097.6 1211.7,2101.3 1213.8,2107.3 1216.4,2113.7 1216.5,2114 1218.8,2118.6 1220.2,2120 1221.2,2117.8 1223.5,2103.6 1224.7,2100.4 1226.1,2101.6 1228.4,2109.2 1230.2,2115.3 1230.3,2115.4 1232.9,2124.3 1235.5,2132.7 1236.5,2134.7 1237.5,2136.6 1239.9,2141.7 1241.5,2143.5 1241.9,2142.8 1244.2,2138.8 1245.3,2137.2 1246.3,2137.7 1248.9,2139.3 1251.1,2141.4 1253.9,2144.6 1256.6,2148.2 1259,2151 1261.5,2154 1262.8,2155.2 1263.5,2155.7 1265.5,2157.6 1267.6,2157.8 1269.8,2159.3 1272,2161.1 1274.1,2162.1 1275.3,2163.1 1276.7,2163.8 1278.6,2164.6 1280.8,2166.6 1283.4,2169.2 1286.1,2170.7 1287.9,2172.4 1288.6,2173.4 1290.8,2173.9 1293.3,2174.9 1296,2176.5 1297.9,2177.7 1297.9,2177.7 1299.9,2181.1 1302.1,2186 1304.1,2190 1305.4,2190.8 1306.2,2190.3 1308.8,2186.2 1310.4,2183.8 1310.7,2183.8 1312.7,2184.7 1314.6,2185.7 1316.5,2186.9 1318.5,2188.5 1320.9,2190 1323.5,2190.4 1324.2,2190.7 1325.5,2189.8 1328,2187.9 1328.2,2187.7 1330.9,2187.8 1333.4,2188.7 1335.7,2190.9 1338,2192.6 1340.4,2193.6 1342.4,2195 1344.7,2196 1345.5,2196.1 1347.4,2196.6 1349.9,2197.8 1351.9,2199.2 1354,2200.8 1355.9,2201 1357.9,2201.3 1360.3,2202.4 1360.6,2202.7 1362.8,2203.1 1365.4,2203.3 1367.4,2204.5 1369.9,2205.1 1372.1,2206.2 1373.6,2207.1 1374.8,2208.3 1377.5,2213.2 1380,2216.9 1381.8,2218.9 1382,2218.6 1383.9,2217.1 1386,2215.8 1388.5,2213 1390.1,2212.4 1391.2,2213.3 1393.4,2213.7 1395.3,2214.1 1397.3,2214.9 1400.1,2216.1 1402.5,2217.2 1402.6,2218 1405,2219.7 1407.5,2221.3 1408.6,2222.3 1409.8,2224.8 1411.8,2229.7 1414.4,2234.7 1415.9,2235.7 1417,2234.9 1419,2233.7 1421,2233.5 1422,2233.5 1423.4,2233.7 1425.7,2237 1427.2,2239.9 1428.5,2243.5 1430.9,2252.5 1433.4,2257.8 1433.4,2257.8 1435.3,2256.6 1437.6,2256 1438.5,2256.2 1439.5,2256.6 1441.5,2260.5 1443.7,2265.6 1445.7,2269.9 1445.9,2270.4 1448,2274 1450.4,2277.8 1452.9,2281 1454,2282.2 1455.5,2283.8 1458,2284.7 1460.5,2286.4 1462.2,2287.6 1462.4,2287.8 1465,2292.4 1467.4,2297.4 1469.5,2299.8 1470.1,2299.3 1472.2,2294.3 1473.6,2292 1474.4,2290.5 1476.5,2290.6 1479.2,2291.7 1479.8,2292.7 1481.4,2294.6 1484,2297.3 1484.9,2297.8 1486.5,2297.1 1488.8,2295.5 1489,2295.7 1491.4,2298.7 1493.4,2303.2 1494.8,2304.9 1496,2304.1 1498.5,2299 1499.3,2298.1 1500.8,2298.3 1503.2,2298.3 1505.3,2298.3 1508.1,2298.3 1509.7,2298.4 1509.9,2298.8 1511.8,2299.6 1514.3,2300.5 1516.8,2301.1 1519.5,2300.9 1522,2301.1 1524.7,2301.4 1526.1,2301.2 1527.1,2302.1 1529,2302.2 1531.3,2302.7 1533.7,2303 1534.4,2302.8 1535.9,2303.3 1538,2302.7 1540.3,2302.4 1542.7,2301.9 1544.7,2301.7 1545.5,2302 1547.7,2303.6 1549.8,2305.1 1552.5,2306.7 1552.9,2307.2 1554.5,2306.5 1557.2,2304.8 1559.2,2303.6 1561.2,2302.7 1561.2,2302.5 1563.9,2302.7 1566.1,2302.8 1568.3,2303.4 1570.5,2304 1571.5,2304.5 1572.5,2304.6 1575.1,2305.1 1577.2,2306.5 1579.4,2307.6 1581.6,2308.5 1581.8,2308.1 1584.2,2307.2 1586.5,2306.5 1588.4,2305.8 1590.9,2305.1 1592.1,2305.9 1593.4,2305.5 1596.1,2305.5 1598.2,2305.3 1600.6,2305 1603,2305.2 1604.5,2306 1604.9,2305.9 1606.9,2305.6 1609.1,2305.1 1611.8,2304.7 1614,2305.3 1616.6,2304.2 1616.8,2304.1" fill="none" stroke="#3d3d3d" stroke-width="4.7" stroke-linecap="round" stroke-linejoin="round" />
<polyline points="1034,2313.6 1254,2313.5 1294,2313 1306,2312.6 1317,2311.9 1328,2310.9 1338,2309.4 1348,2307.3 1355,2305.2 1357,2304.3 1360,2302.6 1365,2298.8 1371,2293.3 1376,2287.8 1379,2283.6 1381,2280.4 1384,2274.9 1386,2270.8 1388,2266.3 1390,2261.1 1393,2251.5 1396,2239.9 1400,2221.6 1404.8,2196.1 1407.6,2178.5 1410.8,2152.7 1415.6,2108.7 1418.4,2081.6 1420.8,2055.1 1422.8,2028.5 1429.6,1918.8 1432.8,1874.1 1435.2,1846.7 1436.8,1830.7 1438.4,1818.4 1440,1811 1441.2,1806.4 1442.4,1803.2 1443.3,1802.3 1444,1803 1444.4,1803.8 1445.2,1806.1 1446.4,1811 1448,1819.1 1449.6,1832.6 1452,1859.2 1453.6,1880.2 1456.4,1922.5 1462.4,2025.8 1464,2049.9 1468,2098.5 1473.6,2154.2 1475.6,2171.5 1477.6,2186.4 1482.8,2217 1485.6,2231.4 1488.6,2244.9 1491.6,2256.4 1493.6,2262.7 1495.6,2268.1 1498.6,2274.6 1508.6,2292.2 1510.6,2295.3 1511.6,2296.4 1513.6,2297.9 1517.6,2299.5 1519.6,2301.4 1523.6,2306.6 1525.6,2308.2 1528.6,2309.7 1532.6,2311 1536.6,2311.8 1541.6,2312.4 1548.6,2312.8 1573.6,2313.4 1616.8,2313.6" fill="none" stroke="#800000" stroke-width="5.7" stroke-linecap="round" stroke-linejoin="round" />
</g>
<text class="tk" x="60.3" y="2387">300</text>
<text class="tk" x="206.2" y="2387">400</text>
<text class="tk" x="352.2" y="2387">500</text>
<text class="tk" x="498.1" y="2387">600</text>
<text class="tk" x="644" y="2387">700</text>
<text class="tk" x="789.9" y="2387">800</text>
<text class="tk" x="887.4" y="2387">300</text>
<text class="tk" x="1033.3" y="2387">400</text>
<text class="tk" x="1179.3" y="2387">500</text>
<text class="tk" x="1325.2" y="2387">600</text>
<text class="tk" x="1471.1" y="2387">700</text>
<text class="tk" x="1617" y="2387">800</text>
<g id="vial-a">
<clipPath id="pca"><rect x="670.9" y="4.1" width="120.5" height="317.9"/></clipPath>
<clipPath id="bca"><path d="M703,78 C690,80 686.8,84 686.3,92 L675.1,295 Q674.6,306 690.6,308 L758.6,310 Q774.6,308 775.2,295 L787.8,92 C788.4,84 785.6,80 782,78 Z"/></clipPath>
<linearGradient id="lga" gradientUnits="userSpaceOnUse" x1="0" y1="108" x2="0" y2="309"><stop offset="0" stop-color="#08f41c"/><stop offset="0.45" stop-color="#00cc16"/><stop offset="0.85" stop-color="#04d81c"/><stop offset="1" stop-color="#2cff50"/></linearGradient>
<linearGradient id="hga" gradientUnits="userSpaceOnUse" x1="674.6" y1="0" x2="788.6" y2="0"><stop offset="0" stop-color="#fff" stop-opacity="0.14"/><stop offset="0.1" stop-color="#fff" stop-opacity="0"/><stop offset="0.1" stop-color="#000" stop-opacity="0"/><stop offset="0.5" stop-color="#000" stop-opacity="0.06"/><stop offset="0.9" stop-color="#000" stop-opacity="0"/><stop offset="0.9" stop-color="#fff" stop-opacity="0"/><stop offset="1" stop-color="#fff" stop-opacity="0.06"/></linearGradient>
<rect x="670.9" y="4.1" width="120.5" height="317.9" fill="#000000"/>
<g clip-path="url(#pca)"><g filter="url(#vb)">
<path d="M677.6,299 L672.6,330 L766.6,330 L771.6,299 Z" fill="#00b81a"/>
<path d="M709,17.2 L705.6,21.7 Q699.3,27.2 704.9,32.7 L704.7,36.6 Q698.3,42.1 704,47.7 L704.1,45.6 Q697.8,51.1 703.4,56.6 L702,83 L783,83 L784.2,60.6 Q790.5,55.1 784.9,49.6 L785.2,44.7 Q791.5,39.1 785.9,33.6 L785.7,36.7 Q792,31.2 786.4,25.7 L784,17.2 Q746.5,10.2 709,17.2 Z" fill="#2ce85c"/>
<path d="M702.2,27.2 Q745.7,37.2 789.2,30.2" fill="none" stroke="#78ffa0" stroke-width="4.9" stroke-linecap="round" opacity="0.9"/>
<path d="M708.2,33.7 Q745.7,41.7 783.2,34.6" fill="none" stroke="#18a038" stroke-width="2.3" opacity="0.55"/>
<path d="M701.5,39.1 Q745,49.1 788.5,42.1" fill="none" stroke="#78ffa0" stroke-width="4.9" stroke-linecap="round" opacity="0.9"/>
<path d="M707.5,45.7 Q745,53.7 782.5,46.6" fill="none" stroke="#18a038" stroke-width="2.3" opacity="0.55"/>
<path d="M700.7,51.1 Q744.2,61.1 787.7,54.1" fill="none" stroke="#78ffa0" stroke-width="4.9" stroke-linecap="round" opacity="0.9"/>
<path d="M706.7,57.6 Q744.2,65.6 781.7,58.6" fill="none" stroke="#18a038" stroke-width="2.3" opacity="0.55"/>
<ellipse cx="747.1" cy="22" rx="34.5" ry="3.9" fill="#18a038" stroke="#78ffa0" stroke-width="2.2"/>
<rect x="712" y="60.6" width="59" height="15.6" rx="3" fill="#14a432" opacity="0.45"/>
<path d="M703,78 C690,80 686.8,84 686.3,92 L675.1,295 Q674.6,306 690.6,308 L758.6,310 Q774.6,308 775.2,295 L787.8,92 C788.4,84 785.6,80 782,78 Z" fill="#22d448"/>
<g clip-path="url(#bca)">
<rect x="706.6" y="90.7" width="58.8" height="23.3" rx="4" fill="#14a432" opacity="0.35"/>
<path d="M683.4,108 Q736.1,134 788.8,108 L796.4,332 L665.9,332 L665.9,108 Z" fill="url(#lga)"/>
<path d="M683.4,113.5 Q736.1,139.5 788.8,113.5" fill="none" stroke="#b4fff0" stroke-width="10"/>
<path d="M672.6,289 Q724.6,311 776.6,293" fill="none" stroke="#fff" stroke-opacity="0.16" stroke-width="4"/>
<rect x="670.9" y="79" width="120.5" height="236" fill="url(#hga)"/>
</g>
</g></g>
</g>
<g id="vial-b">
<clipPath id="pcb"><rect x="675.6" y="594.1" width="113.8" height="318.4"/></clipPath>
<clipPath id="bcb"><path d="M690.1,666 C683.2,668 680.3,672 680.7,680 L688.4,887 Q688.8,898 704.8,900 L768,902 Q784,900 783.8,887 L780,680 C779.9,672 776.8,668 765.5,666 Z"/></clipPath>
<linearGradient id="lgb" gradientUnits="userSpaceOnUse" x1="0" y1="709" x2="0" y2="901"><stop offset="0" stop-color="#20fff0"/><stop offset="0.25" stop-color="#08f8e0"/><stop offset="0.55" stop-color="#00d8b0"/><stop offset="0.85" stop-color="#00e0b8"/><stop offset="1" stop-color="#20ffd0"/></linearGradient>
<linearGradient id="hgb" gradientUnits="userSpaceOnUse" x1="680.2" y1="0" x2="784" y2="0"><stop offset="0" stop-color="#fff" stop-opacity="0.14"/><stop offset="0.1" stop-color="#fff" stop-opacity="0"/><stop offset="0.1" stop-color="#000" stop-opacity="0"/><stop offset="0.5" stop-color="#000" stop-opacity="0.06"/><stop offset="0.9" stop-color="#000" stop-opacity="0"/><stop offset="0.9" stop-color="#fff" stop-opacity="0"/><stop offset="1" stop-color="#fff" stop-opacity="0.06"/></linearGradient>
<rect x="675.6" y="594.1" width="113.8" height="318.4" fill="#000a0a"/>
<g clip-path="url(#pcb)"><g filter="url(#vb)">
<path d="M691.8,891 L686.8,920.5 L776,920.5 L781,891 Z" fill="#00d890"/>
<path d="M689.1,609 L686.4,613 Q680.7,618.1 686.9,623.3 L687.1,627.2 Q681.4,632.4 687.6,637.5 L687.5,635.4 Q681.8,640.6 688,645.8 L689.1,670.7 L766.5,670.7 L765.6,649.8 Q771.4,644.6 765.1,639.4 L764.9,634.5 Q770.6,629.4 764.4,624.2 L764.5,627.3 Q770.2,622.1 764,617 L760.5,609 Q724.8,602 689.1,609 Z" fill="#30e4f0"/>
<path d="M683.7,618.1 Q725.4,628.1 767.1,621.1" fill="none" stroke="#80ffff" stroke-width="4.6" stroke-linecap="round" opacity="0.9"/>
<path d="M689.7,624.3 Q725.4,632.3 761.1,625.2" fill="none" stroke="#1898a0" stroke-width="2.1" opacity="0.55"/>
<path d="M684.3,629.4 Q726,639.4 767.7,632.4" fill="none" stroke="#80ffff" stroke-width="4.6" stroke-linecap="round" opacity="0.9"/>
<path d="M690.3,635.5 Q726,643.5 761.7,636.4" fill="none" stroke="#1898a0" stroke-width="2.1" opacity="0.55"/>
<path d="M684.8,640.6 Q726.5,650.6 768.2,643.6" fill="none" stroke="#80ffff" stroke-width="4.6" stroke-linecap="round" opacity="0.9"/>
<path d="M690.8,646.8 Q726.5,654.8 762.2,647.7" fill="none" stroke="#1898a0" stroke-width="2.1" opacity="0.55"/>
<ellipse cx="726.1" cy="613.4" rx="32.7" ry="3.6" fill="#1898a0" stroke="#80ffff" stroke-width="2.2"/>
<rect x="699.1" y="649.5" width="55.4" height="14.6" rx="3" fill="#1c9498" opacity="0.45"/>
<path d="M690.1,666 C683.2,668 680.3,672 680.7,680 L688.4,887 Q688.8,898 704.8,900 L768,902 Q784,900 783.8,887 L780,680 C779.9,672 776.8,668 765.5,666 Z" fill="#34c8cc"/>
<g clip-path="url(#bcb)">
<rect x="700.6" y="678.7" width="57.5" height="36.3" rx="4" fill="#1c9498" opacity="0.5"/>
<path d="M679.8,709 Q731.2,699 782.6,709 L794.4,922.5 L670.6,922.5 L670.6,709 Z" fill="url(#lgb)"/>
<path d="M686.8,881 Q736.4,903 786,885" fill="none" stroke="#fff" stroke-opacity="0.16" stroke-width="4"/>
<rect x="675.6" y="667" width="113.8" height="240" fill="url(#hgb)"/>
</g>
</g></g>
</g>
<g id="vial-c">
<clipPath id="pcc"><rect x="679.7" y="1176.6" width="109.6" height="317.9"/></clipPath>
<clipPath id="bcc"><path d="M704.5,1251.5 C692,1253.5 688.9,1257.5 688.7,1265.5 L684.2,1469 Q684,1480 700,1482 L762,1484 Q778,1482 778.5,1469 L787.6,1265.5 C788.1,1257.5 785.2,1253.5 777.9,1251.5 Z"/></clipPath>
<linearGradient id="lgc" gradientUnits="userSpaceOnUse" x1="0" y1="1297.3" x2="0" y2="1483"><stop offset="0" stop-color="#10f8ff"/><stop offset="0.2" stop-color="#08e8ff"/><stop offset="0.55" stop-color="#00c0e0"/><stop offset="0.85" stop-color="#00d0e8"/><stop offset="1" stop-color="#20f0ff"/></linearGradient>
<linearGradient id="hgc" gradientUnits="userSpaceOnUse" x1="684" y1="0" x2="788.2" y2="0"><stop offset="0" stop-color="#fff" stop-opacity="0.14"/><stop offset="0.1" stop-color="#fff" stop-opacity="0"/><stop offset="0.1" stop-color="#000" stop-opacity="0"/><stop offset="0.5" stop-color="#000" stop-opacity="0.06"/><stop offset="0.9" stop-color="#000" stop-opacity="0"/><stop offset="0.9" stop-color="#fff" stop-opacity="0"/><stop offset="1" stop-color="#fff" stop-opacity="0.06"/></linearGradient>
<rect x="679.7" y="1176.6" width="109.6" height="317.9" fill="#00000c"/>
<g clip-path="url(#pcc)"><g filter="url(#vb)">
<path d="M687,1473 L682,1502.5 L770,1502.5 L775,1473 Z" fill="#0090c8"/>
<path d="M707.5,1191.8 L704.4,1196.1 Q698.3,1201.5 704.2,1206.9 L704.2,1210.8 Q698.1,1216.2 704,1221.6 L704,1219.5 Q697.9,1224.9 703.9,1230.3 L703.5,1256.2 L778.9,1256.2 L779.2,1234.3 Q785.3,1228.9 779.4,1223.5 L779.4,1218.6 Q785.5,1213.2 779.6,1207.8 L779.6,1210.9 Q785.7,1205.5 779.7,1200.1 L776.9,1191.8 Q742.2,1184.8 707.5,1191.8 Z" fill="#1c98ec"/>
<path d="M701.3,1201.5 Q742,1211.5 782.7,1204.5" fill="none" stroke="#48c4ff" stroke-width="4.8" stroke-linecap="round" opacity="0.9"/>
<path d="M707.3,1207.9 Q742,1215.9 776.7,1208.8" fill="none" stroke="#0c4888" stroke-width="2.2" opacity="0.55"/>
<path d="M701.1,1213.2 Q741.8,1223.2 782.5,1216.2" fill="none" stroke="#48c4ff" stroke-width="4.8" stroke-linecap="round" opacity="0.9"/>
<path d="M707.1,1219.6 Q741.8,1227.6 776.5,1220.5" fill="none" stroke="#0c4888" stroke-width="2.2" opacity="0.55"/>
<path d="M700.9,1224.9 Q741.6,1234.9 782.3,1227.9" fill="none" stroke="#48c4ff" stroke-width="4.8" stroke-linecap="round" opacity="0.9"/>
<path d="M706.9,1231.3 Q741.6,1239.3 776.3,1232.3" fill="none" stroke="#0c4888" stroke-width="2.2" opacity="0.55"/>
<ellipse cx="743.1" cy="1196.5" rx="31.7" ry="3.8" fill="#0c4888" stroke="#48c4ff" stroke-width="2.2"/>
<rect x="713.5" y="1234.2" width="53.4" height="15.2" rx="3" fill="#0c4c9c" opacity="0.45"/>
<path d="M704.5,1251.5 C692,1253.5 688.9,1257.5 688.7,1265.5 L684.2,1469 Q684,1480 700,1482 L762,1484 Q778,1482 778.5,1469 L787.6,1265.5 C788.1,1257.5 785.2,1253.5 777.9,1251.5 Z" fill="#1478d0"/>
<g clip-path="url(#bcc)">
<rect x="708.6" y="1264.2" width="57.2" height="39.1" rx="4" fill="#0c4c9c" opacity="0.7"/>
<path d="M686,1297.3 Q737.1,1303.3 788.2,1297.3 L794.3,1504.5 L674.7,1504.5 L674.7,1297.3 Z" fill="url(#lgc)"/>
<path d="M682,1463 Q731,1485 780,1467" fill="none" stroke="#fff" stroke-opacity="0.16" stroke-width="4"/>
<rect x="679.7" y="1252.5" width="109.6" height="236.5" fill="url(#hgc)"/>
</g>
</g></g>
</g>
<g id="vial-d">
<clipPath id="pcd"><rect x="668.4" y="1756" width="122.9" height="319.9"/></clipPath>
<clipPath id="bcd"><path d="M701.7,1831.5 C688.8,1833.5 685.6,1837.5 685.1,1845.5 L673.2,2053 Q672.6,2064 688.6,2066 L750,2068 Q766,2066 766.8,2053 L783.4,1845.5 C784.2,1837.5 781.4,1833.5 775.2,1831.5 Z"/></clipPath>
<linearGradient id="lgd" gradientUnits="userSpaceOnUse" x1="0" y1="1878" x2="0" y2="2067"><stop offset="0" stop-color="#1838ff"/><stop offset="0.5" stop-color="#0818d8"/><stop offset="0.85" stop-color="#0820e0"/><stop offset="1" stop-color="#2050ff"/></linearGradient>
<linearGradient id="hgd" gradientUnits="userSpaceOnUse" x1="672.6" y1="0" x2="784.4" y2="0"><stop offset="0" stop-color="#fff" stop-opacity="0.14"/><stop offset="0.1" stop-color="#fff" stop-opacity="0"/><stop offset="0.1" stop-color="#000" stop-opacity="0"/><stop offset="0.5" stop-color="#000" stop-opacity="0.06"/><stop offset="0.9" stop-color="#000" stop-opacity="0"/><stop offset="0.9" stop-color="#fff" stop-opacity="0"/><stop offset="1" stop-color="#fff" stop-opacity="0.06"/></linearGradient>
<rect x="668.4" y="1756" width="122.9" height="319.9" fill="#000008"/>
<g clip-path="url(#pcd)"><g filter="url(#vb)">
<path d="M675.6,2057 L670.6,2083.9 L758,2083.9 L763,2057 Z" fill="#0818c8"/>
<path d="M706.7,1773.2 L703.4,1777.3 Q697.1,1782.6 702.9,1787.9 L702.7,1791.8 Q696.4,1797.1 702.2,1802.3 L702.3,1800.3 Q696,1805.5 701.8,1810.8 L700.7,1836.2 L776.2,1836.2 L777.1,1814.8 Q783.3,1809.5 777.6,1804.3 L777.8,1799.3 Q784.1,1794.1 778.3,1788.8 L778.2,1791.9 Q784.5,1786.6 778.7,1781.3 L776.2,1773.2 Q741.5,1766.2 706.7,1773.2 Z" fill="#0e20cc"/>
<path d="M700.1,1782.6 Q740.9,1792.6 781.6,1785.6" fill="none" stroke="#1e4cf0" stroke-width="4.6" stroke-linecap="round" opacity="0.9"/>
<path d="M706.1,1788.9 Q740.9,1796.9 775.6,1789.8" fill="none" stroke="#0a0a80" stroke-width="2.2" opacity="0.55"/>
<path d="M699.5,1794.1 Q740.3,1804.1 781,1797.1" fill="none" stroke="#1e4cf0" stroke-width="4.6" stroke-linecap="round" opacity="0.9"/>
<path d="M705.5,1800.3 Q740.3,1808.3 775,1801.3" fill="none" stroke="#0a0a80" stroke-width="2.2" opacity="0.55"/>
<path d="M699,1805.5 Q739.7,1815.5 780.5,1808.5" fill="none" stroke="#1e4cf0" stroke-width="4.6" stroke-linecap="round" opacity="0.9"/>
<path d="M705,1811.8 Q739.7,1819.8 774.5,1812.7" fill="none" stroke="#0a0a80" stroke-width="2.2" opacity="0.55"/>
<ellipse cx="742.2" cy="1777.7" rx="31.8" ry="3.7" fill="#0a0a80" stroke="#1e4cf0" stroke-width="2.2"/>
<rect x="710.7" y="1814.6" width="53.5" height="14.9" rx="3" fill="#0c0c90" opacity="0.45"/>
<path d="M701.7,1831.5 C688.8,1833.5 685.6,1837.5 685.1,1845.5 L673.2,2053 Q672.6,2064 688.6,2066 L750,2068 Q766,2066 766.8,2053 L783.4,1845.5 C784.2,1837.5 781.4,1833.5 775.2,1831.5 Z" fill="#1418c8"/>
<g clip-path="url(#bcd)">
<rect x="704.8" y="1844.2" width="56.9" height="39.8" rx="4" fill="#0c0c90" opacity="0.7"/>
<path d="M681.2,1878 Q732,1904 782.8,1878 L796.3,2085.9 L663.4,2085.9 L663.4,1878 Z" fill="url(#lgd)"/>
<path d="M681.2,1885 Q732,1911 782.8,1885" fill="none" stroke="#18b8ff" stroke-width="12"/>
<path d="M670.6,2047 Q719.3,2069 768,2051" fill="none" stroke="#fff" stroke-opacity="0.16" stroke-width="4"/>
<rect x="668.4" y="1832.5" width="122.9" height="240.5" fill="url(#hgd)"/>
</g>
</g></g>
</g>
<g id="vial-e">
<clipPath id="pce"><rect x="1509" y="4.1" width="108.9" height="317.9"/></clipPath>
<clipPath id="bce"><path d="M1525.2,73 C1515.3,75 1512.3,79 1512.3,87 L1512.6,303.5 Q1512.6,314.5 1528.6,316.5 L1599.4,318.5 Q1615.4,316.5 1615.4,303.5 L1615.7,87 C1615.7,79 1612.7,75 1604.2,73 Z"/></clipPath>
<linearGradient id="lge" gradientUnits="userSpaceOnUse" x1="0" y1="114.4" x2="0" y2="317.5"><stop offset="0" stop-color="#d8c808"/><stop offset="0.3" stop-color="#b8a410"/><stop offset="0.8" stop-color="#b09810"/><stop offset="0.93" stop-color="#e0cc00"/><stop offset="1" stop-color="#f4e400"/></linearGradient>
<linearGradient id="hge" gradientUnits="userSpaceOnUse" x1="1512.3" y1="0" x2="1615.7" y2="0"><stop offset="0" stop-color="#fff" stop-opacity="0.14"/><stop offset="0.1" stop-color="#fff" stop-opacity="0"/><stop offset="0.1" stop-color="#000" stop-opacity="0"/><stop offset="0.5" stop-color="#000" stop-opacity="0.06"/><stop offset="0.9" stop-color="#000" stop-opacity="0"/><stop offset="0.9" stop-color="#fff" stop-opacity="0"/><stop offset="1" stop-color="#fff" stop-opacity="0.06"/></linearGradient>
<rect x="1509" y="4.1" width="108.9" height="317.9" fill="#20161e"/>
<g clip-path="url(#pce)"><g filter="url(#vb)">
<path d="M1515.6,307.5 L1510.6,330 L1607.4,330 L1612.4,307.5 Z" fill="#c08000"/>
<path d="M1527.2,8.9 L1524.2,13.7 Q1518.2,19.4 1524.2,25.1 L1524.2,29.2 Q1518.2,34.9 1524.2,40.6 L1524.2,38.6 Q1518.2,44.4 1524.2,50.1 L1524.2,77.4 L1605.2,77.4 L1605.2,54.1 Q1611.2,48.4 1605.2,42.6 L1605.2,37.6 Q1611.2,31.9 1605.2,26.2 L1605.2,29.1 Q1611.2,23.4 1605.2,17.7 L1602.2,8.9 Q1564.7,1.9 1527.2,8.9 Z" fill="#8cdc1c"/>
<path d="M1521.2,19.4 Q1564.7,29.4 1608.2,22.4" fill="none" stroke="#ccf428" stroke-width="5.1" stroke-linecap="round" opacity="0.9"/>
<path d="M1527.2,26.1 Q1564.7,34.1 1602.2,27.1" fill="none" stroke="#4c9414" stroke-width="2.4" opacity="0.55"/>
<path d="M1521.2,31.9 Q1564.7,41.9 1608.2,34.9" fill="none" stroke="#ccf428" stroke-width="5.1" stroke-linecap="round" opacity="0.9"/>
<path d="M1527.2,38.6 Q1564.7,46.6 1602.2,39.6" fill="none" stroke="#4c9414" stroke-width="2.4" opacity="0.55"/>
<path d="M1521.2,44.4 Q1564.7,54.4 1608.2,47.4" fill="none" stroke="#ccf428" stroke-width="5.1" stroke-linecap="round" opacity="0.9"/>
<path d="M1527.2,51.1 Q1564.7,59.1 1602.2,52.1" fill="none" stroke="#4c9414" stroke-width="2.4" opacity="0.55"/>
<ellipse cx="1565.7" cy="14" rx="34.5" ry="4" fill="#4c9414" stroke="#ccf428" stroke-width="2.2"/>
<rect x="1534.2" y="54.1" width="59" height="16.2" rx="3" fill="#48a81c" opacity="0.45"/>
<path d="M1525.2,73 C1515.3,75 1512.3,79 1512.3,87 L1512.6,303.5 Q1512.6,314.5 1528.6,316.5 L1599.4,318.5 Q1615.4,316.5 1615.4,303.5 L1615.7,87 C1615.7,79 1612.7,75 1604.2,73 Z" fill="#60cc20"/>
<g clip-path="url(#bce)">
<rect x="1533" y="85.7" width="59.9" height="34.7" rx="4" fill="#48a81c" opacity="0.5"/>
<path d="M1510.4,114.4 Q1564,130.4 1617.6,114.4 L1622.9,332 L1504,332 L1504,114.4 Z" fill="url(#lge)"/>
<path d="M1510.4,126 Q1564,142 1617.6,126" fill="none" stroke="#fcfc00" stroke-width="20"/>
<path d="M1510.6,297.5 Q1564,319.5 1617.4,301.5" fill="none" stroke="#fff" stroke-opacity="0.16" stroke-width="4"/>
<rect x="1509" y="74" width="108.9" height="249.5" fill="url(#hge)"/>
</g>
</g></g>
</g>
<g id="vial-f">
<clipPath id="pcf"><rect x="1505.4" y="594.1" width="111.1" height="316.2"/></clipPath>
<clipPath id="bcf"><path d="M1526.6,663.5 C1515.3,665.5 1512.2,669.5 1512.1,677.5 L1508.3,891 Q1508.1,902 1524.1,904 L1591.4,906 Q1607.4,904 1607.7,891 L1613.9,677.5 C1614.2,669.5 1611.3,665.5 1602.8,663.5 Z"/></clipPath>
<linearGradient id="lgf" gradientUnits="userSpaceOnUse" x1="0" y1="711" x2="0" y2="905"><stop offset="0" stop-color="#f85808"/><stop offset="0.5" stop-color="#e84000"/><stop offset="0.9" stop-color="#f03800"/><stop offset="1" stop-color="#ff5414"/></linearGradient>
<linearGradient id="hgf" gradientUnits="userSpaceOnUse" x1="1508.1" y1="0" x2="1614.3" y2="0"><stop offset="0" stop-color="#fff" stop-opacity="0.14"/><stop offset="0.1" stop-color="#fff" stop-opacity="0"/><stop offset="0.1" stop-color="#000" stop-opacity="0"/><stop offset="0.5" stop-color="#000" stop-opacity="0.06"/><stop offset="0.9" stop-color="#000" stop-opacity="0"/><stop offset="0.9" stop-color="#fff" stop-opacity="0"/><stop offset="1" stop-color="#fff" stop-opacity="0.06"/></linearGradient>
<rect x="1505.4" y="594.1" width="111.1" height="316.2" fill="#28081c"/>
<g clip-path="url(#pcf)"><g filter="url(#vb)">
<path d="M1511.1,895 L1506.1,918.3 L1599.4,918.3 L1604.4,895 Z" fill="#e82800"/>
<path d="M1529.6,599.4 L1526.5,604.2 Q1520.4,609.9 1526.3,615.7 L1526.3,619.7 Q1520.2,625.4 1526.1,631.2 L1526.1,629.2 Q1520,634.9 1526,640.7 L1525.6,668 L1603.8,668 L1604.1,644.7 Q1610.2,638.9 1604.3,633.2 L1604.3,628.2 Q1610.4,622.4 1604.5,616.7 L1604.5,619.7 Q1610.6,613.9 1604.6,608.2 L1601.8,599.4 Q1565.7,592.4 1529.6,599.4 Z" fill="#f08c14"/>
<path d="M1523.4,609.9 Q1565.5,619.9 1607.6,612.9" fill="none" stroke="#ffb428" stroke-width="5.1" stroke-linecap="round" opacity="0.9"/>
<path d="M1529.4,616.7 Q1565.5,624.7 1601.6,617.7" fill="none" stroke="#b05400" stroke-width="2.4" opacity="0.55"/>
<path d="M1523.2,622.4 Q1565.3,632.4 1607.4,625.4" fill="none" stroke="#ffb428" stroke-width="5.1" stroke-linecap="round" opacity="0.9"/>
<path d="M1529.2,629.2 Q1565.3,637.2 1601.4,630.2" fill="none" stroke="#b05400" stroke-width="2.4" opacity="0.55"/>
<path d="M1523,634.9 Q1565.1,644.9 1607.2,637.9" fill="none" stroke="#ffb428" stroke-width="5.1" stroke-linecap="round" opacity="0.9"/>
<path d="M1529,641.7 Q1565.1,649.7 1601.2,642.7" fill="none" stroke="#b05400" stroke-width="2.4" opacity="0.55"/>
<ellipse cx="1566.6" cy="604.5" rx="33.1" ry="4.1" fill="#b05400" stroke="#ffb428" stroke-width="2.2"/>
<rect x="1535.6" y="644.7" width="56.2" height="16.2" rx="3" fill="#c05c00" opacity="0.45"/>
<path d="M1526.6,663.5 C1515.3,665.5 1512.2,669.5 1512.1,677.5 L1508.3,891 Q1508.1,902 1524.1,904 L1591.4,906 Q1607.4,904 1607.7,891 L1613.9,677.5 C1614.2,669.5 1611.3,665.5 1602.8,663.5 Z" fill="#e07c04"/>
<g clip-path="url(#bcf)">
<rect x="1532.5" y="676.2" width="59" height="40.8" rx="4" fill="#c05c00" opacity="0.7"/>
<path d="M1509.5,711 Q1562.2,727 1614.9,711 L1621.5,920.3 L1500.4,920.3 L1500.4,711 Z" fill="url(#lgf)"/>
<path d="M1509.5,718.5 Q1562.2,734.5 1614.9,718.5" fill="none" stroke="#fcc400" stroke-width="12"/>
<path d="M1506.1,885 Q1557.8,907 1609.4,889" fill="none" stroke="#fff" stroke-opacity="0.16" stroke-width="4"/>
<rect x="1505.4" y="664.5" width="111.1" height="246.5" fill="url(#hgf)"/>
</g>
</g></g>
</g>
<g id="vial-g">
<clipPath id="pcg"><rect x="1497.9" y="1181.6" width="120" height="313.2"/></clipPath>
<clipPath id="bcg"><path d="M1526.6,1247 C1515.3,1249 1512.2,1253 1511.7,1261 L1501.8,1473 Q1501.3,1484 1517.3,1486 L1584.5,1488 Q1600.5,1486 1601.2,1473 L1615.6,1261 C1616.3,1253 1613.5,1249 1606.9,1247 Z"/></clipPath>
<linearGradient id="lgg" gradientUnits="userSpaceOnUse" x1="0" y1="1288.6" x2="0" y2="1487"><stop offset="0" stop-color="#ff1058"/><stop offset="0.3" stop-color="#f80038"/><stop offset="0.7" stop-color="#f00030"/><stop offset="1" stop-color="#ff1048"/></linearGradient>
<linearGradient id="hgg" gradientUnits="userSpaceOnUse" x1="1501.3" y1="0" x2="1616.5" y2="0"><stop offset="0" stop-color="#fff" stop-opacity="0.14"/><stop offset="0.1" stop-color="#fff" stop-opacity="0"/><stop offset="0.1" stop-color="#000" stop-opacity="0"/><stop offset="0.5" stop-color="#000" stop-opacity="0.06"/><stop offset="0.9" stop-color="#000" stop-opacity="0"/><stop offset="0.9" stop-color="#fff" stop-opacity="0"/><stop offset="1" stop-color="#fff" stop-opacity="0.06"/></linearGradient>
<rect x="1497.9" y="1181.6" width="120" height="313.2" fill="#200028"/>
<g clip-path="url(#pcg)"><g filter="url(#vb)">
<path d="M1504.3,1477 L1499.3,1502.8 L1592.5,1502.8 L1597.5,1477 Z" fill="#f00040"/>
<path d="M1531.6,1187.2 L1528.3,1191.5 Q1522,1196.9 1527.8,1202.3 L1527.6,1206.2 Q1521.4,1211.6 1527.1,1217 L1527.2,1214.9 Q1520.9,1220.3 1526.7,1225.7 L1525.6,1251.6 L1607.9,1251.6 L1608.8,1229.7 Q1615,1224.3 1609.3,1218.9 L1609.5,1214 Q1615.8,1208.6 1610,1203.2 L1609.9,1206.3 Q1616.2,1200.9 1610.4,1195.5 L1607.9,1187.2 Q1569.8,1180.2 1531.6,1187.2 Z" fill="#ff2464"/>
<path d="M1525,1196.9 Q1569.2,1206.9 1613.3,1199.9" fill="none" stroke="#ff5484" stroke-width="4.8" stroke-linecap="round" opacity="0.9"/>
<path d="M1531,1203.3 Q1569.2,1211.3 1607.3,1204.2" fill="none" stroke="#d41044" stroke-width="2.2" opacity="0.55"/>
<path d="M1524.4,1208.6 Q1568.6,1218.6 1612.7,1211.6" fill="none" stroke="#ff5484" stroke-width="4.8" stroke-linecap="round" opacity="0.9"/>
<path d="M1530.4,1215 Q1568.6,1223 1606.7,1215.9" fill="none" stroke="#d41044" stroke-width="2.2" opacity="0.55"/>
<path d="M1523.9,1220.3 Q1568,1230.3 1612.2,1223.3" fill="none" stroke="#ff5484" stroke-width="4.8" stroke-linecap="round" opacity="0.9"/>
<path d="M1529.9,1226.7 Q1568,1234.7 1606.2,1227.7" fill="none" stroke="#d41044" stroke-width="2.2" opacity="0.55"/>
<ellipse cx="1570.5" cy="1191.9" rx="35.2" ry="3.8" fill="#d41044" stroke="#ff5484" stroke-width="2.2"/>
<rect x="1535.6" y="1229.6" width="60.3" height="15.2" rx="3" fill="#d4083c" opacity="0.45"/>
<path d="M1526.6,1247 C1515.3,1249 1512.2,1253 1511.7,1261 L1501.8,1473 Q1501.3,1484 1517.3,1486 L1584.5,1488 Q1600.5,1486 1601.2,1473 L1615.6,1261 C1616.3,1253 1613.5,1249 1606.9,1247 Z" fill="#f42054"/>
<g clip-path="url(#bcg)">
<rect x="1532.5" y="1259.7" width="60.2" height="34.9" rx="4" fill="#d4083c" opacity="0.7"/>
<path d="M1508.4,1288.6 Q1562.1,1296.6 1615.7,1288.6 L1622.9,1504.8 L1492.9,1504.8 L1492.9,1288.6 Z" fill="url(#lgg)"/>
<path d="M1499.3,1467 Q1550.9,1489 1602.5,1471" fill="none" stroke="#fff" stroke-opacity="0.16" stroke-width="4"/>
<rect x="1497.9" y="1248" width="120" height="245" fill="url(#hgg)"/>
</g>
</g></g>
</g>
<g id="vial-h">
<clipPath id="pch"><rect x="1493" y="1756.6" width="126.3" height="315.1"/></clipPath>
<clipPath id="bch"><path d="M1529.3,1821 C1515.6,1823 1512.4,1827 1511.7,1835 L1496.4,2055 Q1495.7,2066 1511.7,2068 L1581.8,2070 Q1597.8,2068 1598.6,2055 L1616.7,1835 C1617.6,1827 1614.8,1823 1611,1821 Z"/></clipPath>
<linearGradient id="lgh" gradientUnits="userSpaceOnUse" x1="0" y1="1906" x2="0" y2="2069"><stop offset="0" stop-color="#e00858"/><stop offset="0.4" stop-color="#b00050"/><stop offset="0.8" stop-color="#b80050"/><stop offset="1" stop-color="#ec1474"/></linearGradient>
<linearGradient id="hgh" gradientUnits="userSpaceOnUse" x1="1495.7" y1="0" x2="1617.8" y2="0"><stop offset="0" stop-color="#fff" stop-opacity="0.14"/><stop offset="0.1" stop-color="#fff" stop-opacity="0"/><stop offset="0.1" stop-color="#000" stop-opacity="0"/><stop offset="0.5" stop-color="#000" stop-opacity="0.06"/><stop offset="0.9" stop-color="#000" stop-opacity="0"/><stop offset="0.9" stop-color="#fff" stop-opacity="0"/><stop offset="1" stop-color="#fff" stop-opacity="0.06"/></linearGradient>
<rect x="1493" y="1756.6" width="126.3" height="315.1" fill="#180028"/>
<g clip-path="url(#pch)"><g filter="url(#vb)">
<path d="M1498.7,2059 L1493.7,2079.7 L1589.8,2079.7 L1594.8,2059 Z" fill="#a80054"/>
<path d="M1535.3,1760.8 L1531.9,1765.1 Q1525.6,1770.5 1531.2,1775.9 L1531,1779.8 Q1524.6,1785.2 1530.3,1790.6 L1530.4,1788.5 Q1524.1,1793.9 1529.7,1799.3 L1528.3,1825.2 L1612,1825.2 L1613.2,1803.3 Q1619.5,1797.9 1613.9,1792.5 L1614.2,1787.6 Q1620.5,1782.2 1614.9,1776.8 L1614.7,1779.9 Q1621,1774.5 1615.4,1769.1 L1613,1760.8 Q1574.2,1753.8 1535.3,1760.8 Z" fill="#f424a4"/>
<path d="M1528.5,1770.5 Q1573.3,1780.5 1618.2,1773.5" fill="none" stroke="#ff58c4" stroke-width="4.8" stroke-linecap="round" opacity="0.9"/>
<path d="M1534.5,1776.9 Q1573.3,1784.9 1612.2,1777.8" fill="none" stroke="#b01478" stroke-width="2.2" opacity="0.55"/>
<path d="M1527.8,1782.2 Q1572.6,1792.2 1617.5,1785.2" fill="none" stroke="#ff58c4" stroke-width="4.8" stroke-linecap="round" opacity="0.9"/>
<path d="M1533.8,1788.6 Q1572.6,1796.6 1611.5,1789.5" fill="none" stroke="#b01478" stroke-width="2.2" opacity="0.55"/>
<path d="M1527,1793.9 Q1571.9,1803.9 1616.7,1796.9" fill="none" stroke="#ff58c4" stroke-width="4.8" stroke-linecap="round" opacity="0.9"/>
<path d="M1533,1800.3 Q1571.9,1808.3 1610.7,1801.3" fill="none" stroke="#b01478" stroke-width="2.2" opacity="0.55"/>
<ellipse cx="1574.8" cy="1765.5" rx="35.9" ry="3.8" fill="#b01478" stroke="#ff58c4" stroke-width="2.2"/>
<rect x="1538.3" y="1803.2" width="61.7" height="15.2" rx="3" fill="#98004c" opacity="0.45"/>
<path d="M1529.3,1821 C1515.6,1823 1512.4,1827 1511.7,1835 L1496.4,2055 Q1495.7,2066 1511.7,2068 L1581.8,2070 Q1597.8,2068 1598.6,2055 L1616.7,1835 C1617.6,1827 1614.8,1823 1611,1821 Z" fill="#e01470"/>
<g clip-path="url(#bch)">
<rect x="1532.7" y="1833.7" width="60.9" height="78.3" rx="4" fill="#98004c" opacity="0.7"/>
<path d="M1504.8,1906 Q1558.8,1918 1612.9,1906 L1624.3,2081.7 L1488,2081.7 L1488,1906 Z" fill="url(#lgh)"/>
<path d="M1504.8,1917 Q1558.8,1929 1612.9,1917" fill="none" stroke="#ff0868" stroke-width="17"/>
<path d="M1493.7,2049 Q1546.8,2071 1599.8,2053" fill="none" stroke="#fff" stroke-opacity="0.16" stroke-width="4"/>
<rect x="1493" y="1822" width="126.3" height="253" fill="url(#hgh)"/>
</g>
</g></g>
</g>
</svg></body></html>
